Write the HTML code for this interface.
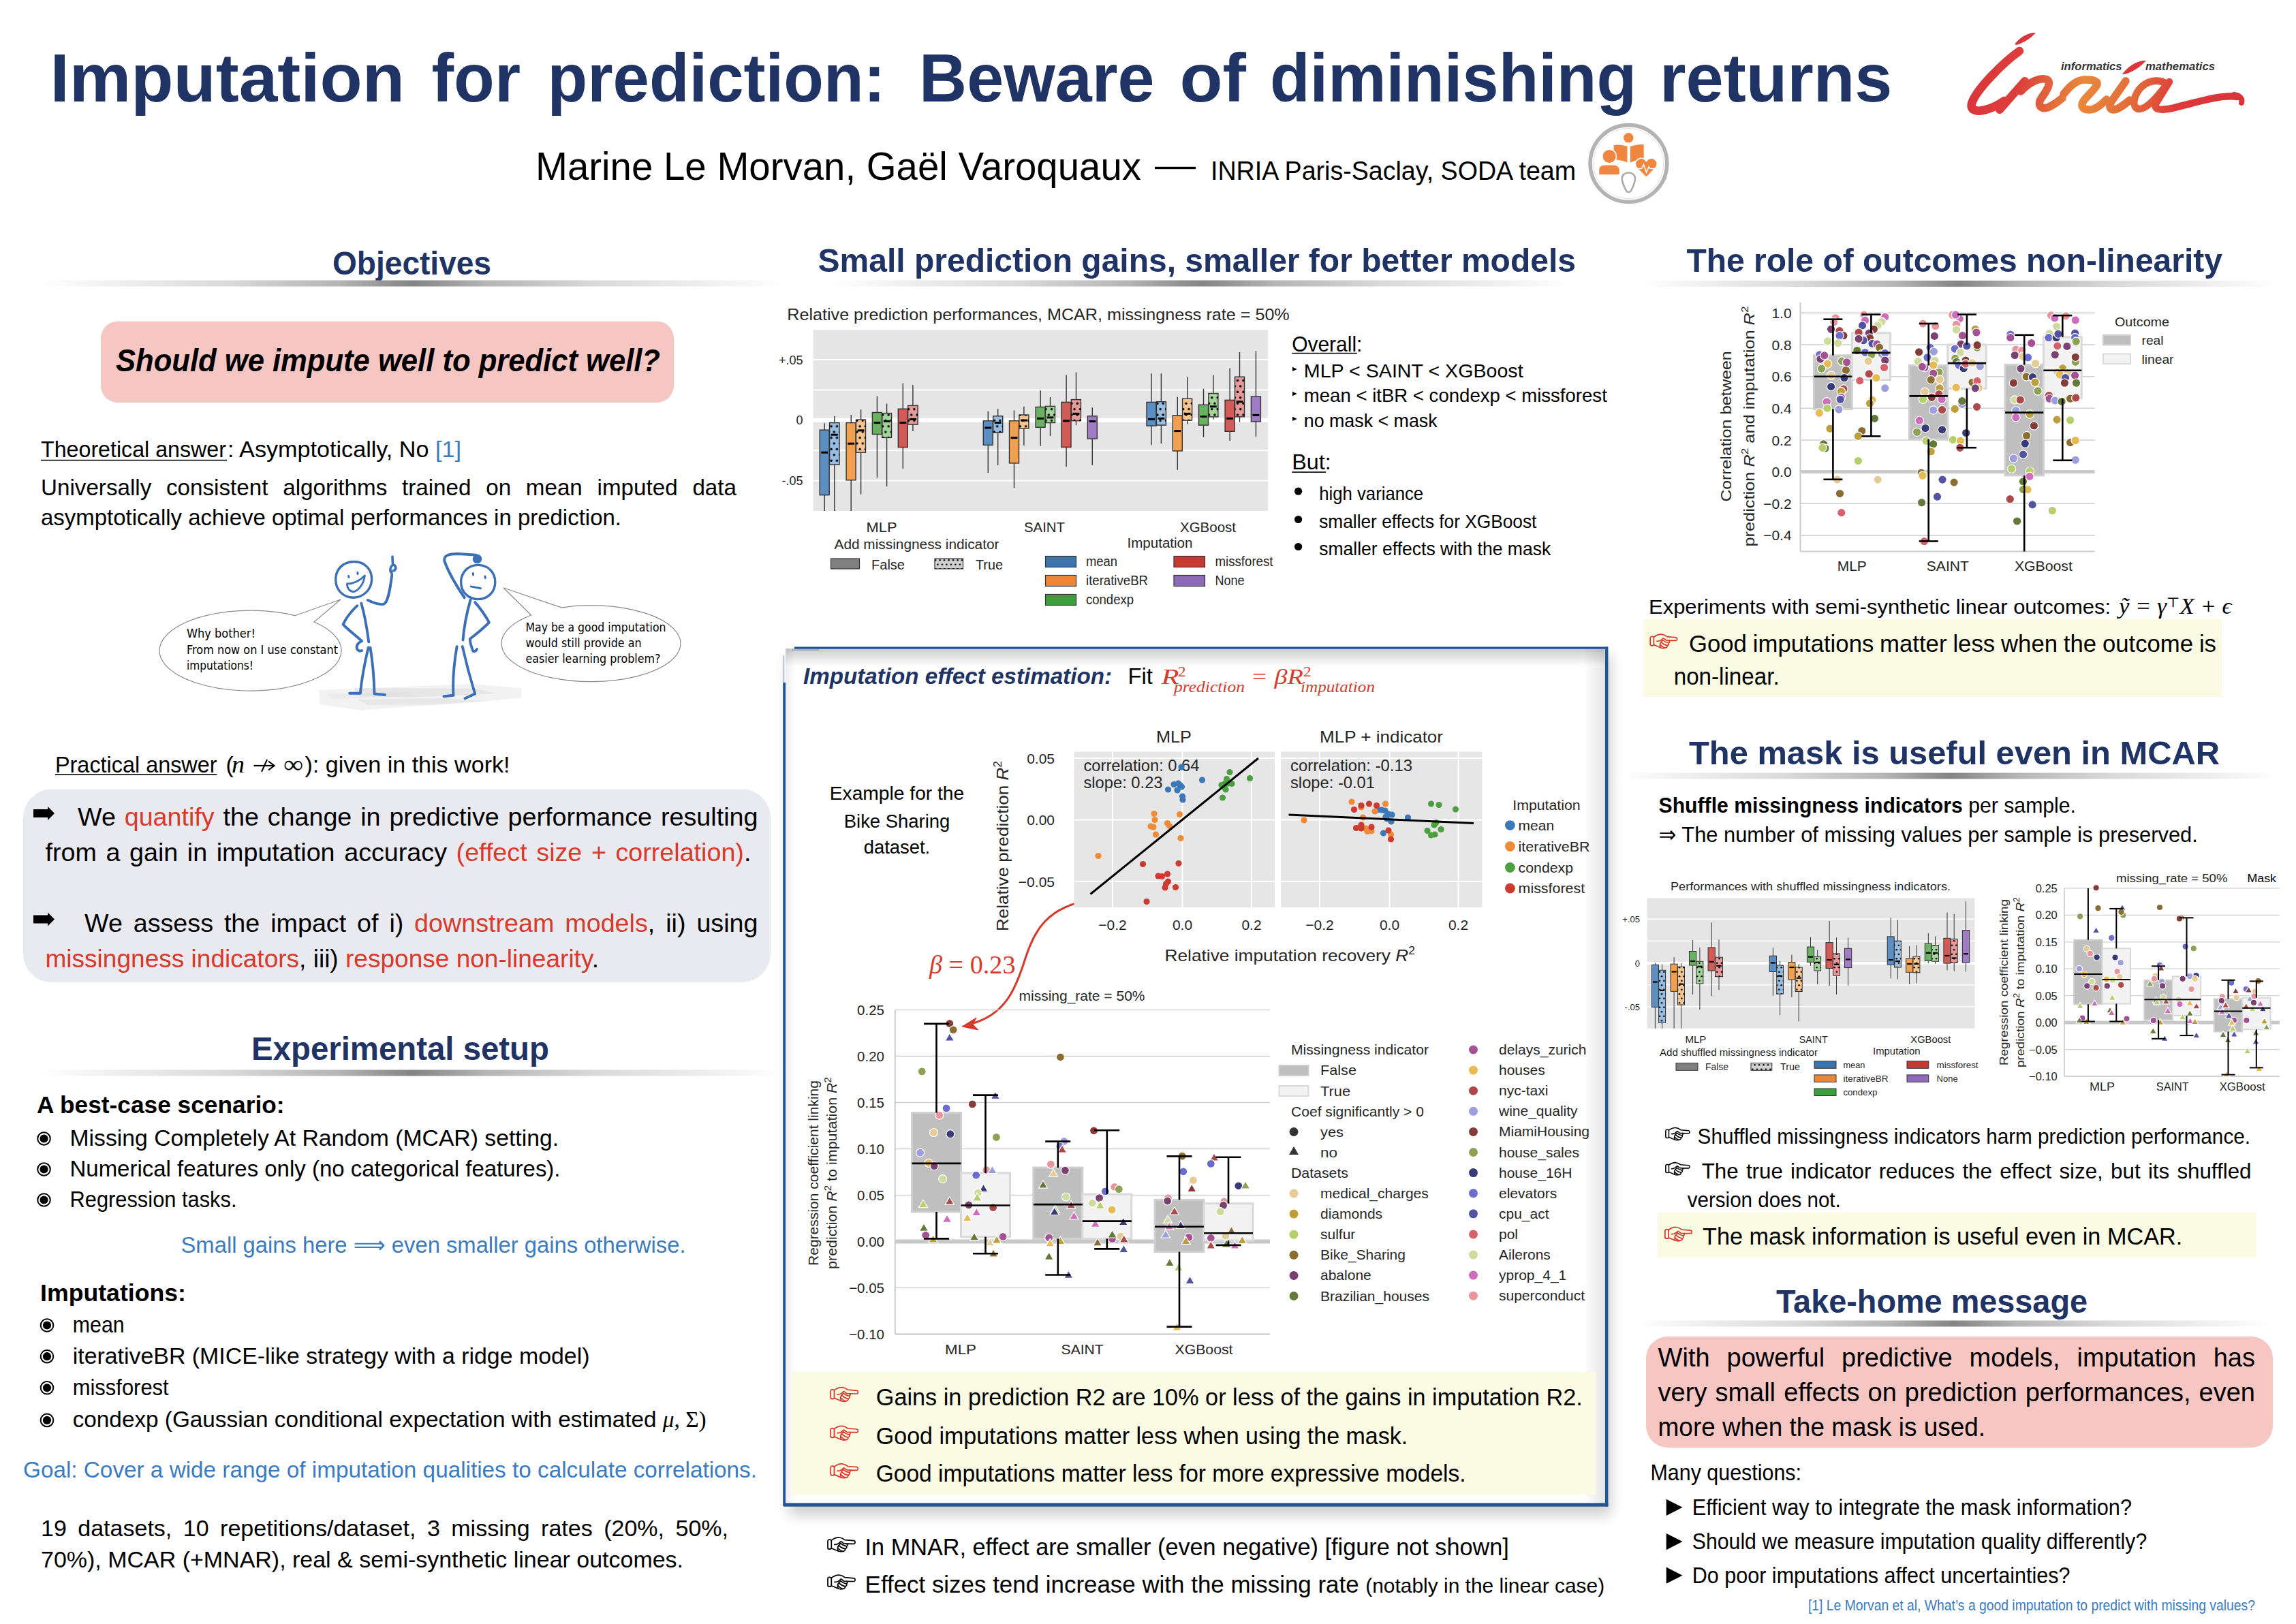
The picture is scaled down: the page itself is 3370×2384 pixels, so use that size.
<!DOCTYPE html>
<html><head><meta charset="utf-8"><title>Imputation for prediction: Beware of diminishing returns</title>
<style>
html,body{margin:0;padding:0;background:#fff;}
body{width:3370px;height:2384px;overflow:hidden;}
svg{display:block;font-family:"Liberation Sans","DejaVu Sans",sans-serif;}
</style></head><body>
<svg width="3370" height="2384" viewBox="0 0 3370 2384">
<defs>
<linearGradient id="rulegrad" x1="0" x2="1" y1="0" y2="0">
<stop offset="0" stop-color="#ffffff"/>
<stop offset="0.08" stop-color="#f2f2f2"/>
<stop offset="0.25" stop-color="#dadada"/>
<stop offset="0.4" stop-color="#b5b5b5"/>
<stop offset="0.5" stop-color="#848484"/>
<stop offset="0.6" stop-color="#b5b5b5"/>
<stop offset="0.75" stop-color="#dadada"/>
<stop offset="0.92" stop-color="#f2f2f2"/>
<stop offset="1" stop-color="#ffffff"/>
</linearGradient>
<pattern id="dots" patternUnits="userSpaceOnUse" width="8.4" height="16.8">
<circle cx="2.1" cy="4.2" r="1.7" fill="#000"/>
<circle cx="6.3" cy="12.6" r="1.7" fill="#000"/>
</pattern>
<pattern id="dots2" patternUnits="userSpaceOnUse" width="6.5" height="13">
<circle cx="1.6" cy="3.2" r="1.3" fill="#000"/>
<circle cx="4.9" cy="9.7" r="1.3" fill="#000"/>
</pattern>
<linearGradient id="inriagrad" x1="0" x2="1" y1="0" y2="0.3">
<stop offset="0" stop-color="#dc3a3a"/>
<stop offset="0.45" stop-color="#e8843b"/>
<stop offset="0.75" stop-color="#dc3a3a"/>
<stop offset="1" stop-color="#dc3a3a"/>
</linearGradient>
<filter id="blur6" x="-10%" y="-10%" width="120%" height="120%"><feGaussianBlur stdDeviation="6"/></filter>
<filter id="blur3" x="-10%" y="-10%" width="120%" height="120%"><feGaussianBlur stdDeviation="3"/></filter>
<symbol id="hand" viewBox="0 0 41.5 21.3" overflow="visible">
<g fill="none" stroke-width="1.75" stroke-linecap="round" stroke-linejoin="round">
<rect x="0.9" y="3.7" width="5.3" height="13.8" rx="2.3"/>
<path d="M6.2,4.6 C9,2.6 14,0.3 17.7,0.5 C20.5,0.8 23.5,2 25.9,4.1 L39.4,5.2 C41.6,5.6 41.6,9.6 39.4,9.9 L28.6,9.7 C30.2,10.5 30.1,12.7 28.2,13.3 C29.3,14.6 28.6,16.6 26.5,17.2 C27,19.2 25,21 22.6,20.8 C20.5,21.6 18,21.2 15.5,20.2 L7.4,16.7 L6.2,16.6"/>
<path d="M10.7,10.8 C14,11.2 17.5,9.2 20.1,6.4 C21.5,6 22.7,8.8 25,9.6 L28.6,9.7"/>
<path d="M19.8,9.2 C22,11.5 25,12.8 28.2,13.3 M17.6,12.6 C20,15 23,16.6 26.5,17.2 M16,16.2 C18,18.5 20.5,20.2 22.6,20.8 M19.8,9.2 C17,11.5 15.5,14 15.4,16 C15.4,18 15.7,19.5 16.3,20.4"/>
</g>
</symbol>
</defs>

<text x="73.5" y="148.5" font-size="100" font-weight="bold" fill="#1f3365" textLength="520.5" lengthAdjust="spacingAndGlyphs">Imputation</text>
<text x="633.5" y="148.5" font-size="100" font-weight="bold" fill="#1f3365" textLength="130.5" lengthAdjust="spacingAndGlyphs">for</text>
<text x="803.5" y="148.5" font-size="100" font-weight="bold" fill="#1f3365" textLength="496.0" lengthAdjust="spacingAndGlyphs">prediction:</text>
<text x="1349.0" y="148.5" font-size="100" font-weight="bold" fill="#1f3365" textLength="345.5" lengthAdjust="spacingAndGlyphs">Beware</text>
<text x="1731.5" y="148.5" font-size="100" font-weight="bold" fill="#1f3365" textLength="97.5" lengthAdjust="spacingAndGlyphs">of</text>
<text x="1864.0" y="148.5" font-size="100" font-weight="bold" fill="#1f3365" textLength="538.0" lengthAdjust="spacingAndGlyphs">diminishing</text>
<text x="2436.0" y="148.5" font-size="100" font-weight="bold" fill="#1f3365" textLength="341.5" lengthAdjust="spacingAndGlyphs">returns</text>
<text x="786.0" y="264.0" font-size="58" textLength="889.0" lengthAdjust="spacingAndGlyphs">Marine Le Morvan, Gaël Varoquaux</text>
<rect x="1695.0" y="244.8" width="60.0" height="3.4" fill="#000"/>
<text x="1777.0" y="264.0" font-size="38" textLength="536.0" lengthAdjust="spacingAndGlyphs">INRIA Paris-Saclay, SODA team</text>
<linearGradient id="ig2" gradientUnits="userSpaceOnUse" x1="2890" y1="60" x2="3300" y2="170"><stop offset="0" stop-color="#da343b"/><stop offset="0.2" stop-color="#dc3d3a"/><stop offset="0.42" stop-color="#e8893c"/><stop offset="0.6" stop-color="#e36a3a"/><stop offset="0.75" stop-color="#dc393a"/><stop offset="1" stop-color="#d9333a"/></linearGradient>
<g fill="none" stroke="url(#ig2)" stroke-linecap="round" stroke-linejoin="round">
<path d="M2964,75 C2940,92 2900,132 2894,152 C2891,163 2903,165 2918,160 C2928,157 2936,152 2942,148" stroke-width="12.5"/>
<path d="M2935,161 L2972,119" stroke-width="12"/>
<path d="M2966,134 C2980,119 2996,113 3005,117 C3011,121 3005,132 2997,143 C2990,153 2994,161 3005,158 C3013,155 3021,149 3027,144" stroke-width="11.5"/>
<path d="M3029,138 C3039,125 3049,117 3060,117 C3070,117 3079,118 3078,124 C3076,131 3061,142 3057,150 C3053,159 3061,163 3073,160 C3081,157 3087,151 3092,146" stroke-width="11.5"/>
<path d="M3120,119 L3099,149 C3094,158 3098,163 3107,160 C3114,157 3120,152 3126,147" stroke-width="11.5"/>
<path d="M3181,124 C3168,114 3150,119 3140,131 C3131,143 3129,158 3139,160 C3149,161 3164,146 3180,124" stroke-width="10.5"/>
<path d="M3184,120 L3165,151 C3160,160 3168,163 3188,159 C3225,150 3262,138 3284,142" stroke-width="10.5"/>
<path d="M3279,139 C3288,140 3292,145 3290,151" stroke-width="8"/>
</g>
<path d="M2957,65 C2963,57 2972,50 2984,48 L2988,48 C2981,56 2970,63 2960,66 Z" fill="#db353b"/>
<path d="M3115,109 C3122,99 3133,91 3146,89 L3150,89 C3142,98 3130,106 3118,109 Z" fill="#db353b"/>
<text x="3025.0" y="103.2" font-size="17" font-weight="bold" font-style="italic" fill="#333" textLength="89.5" lengthAdjust="spacingAndGlyphs">informatics</text>
<text x="3149.0" y="103.2" font-size="17" font-weight="bold" font-style="italic" fill="#333" textLength="102.0" lengthAdjust="spacingAndGlyphs">mathematics</text>
<circle cx="2390.4" cy="240.0" r="56.4" fill="#fff" stroke="#b3b3b3" stroke-width="5.6" />
<circle cx="2390.4" cy="240.0" r="51.5" fill="none" stroke="#e2e2e2" stroke-width="1" />
<circle cx="2390.3" cy="202.3" r="7.8" fill="#ef8741" stroke="#fff" stroke-width="1.2" />
<path d="M2368.7,213 Q2378,211.5 2388.5,215 L2388.5,238.5 Q2379,234.5 2368.7,234 Z" fill="#ef8741"/>
<path d="M2392.8,215 Q2403,211.5 2412.7,212.2 L2412.7,234 Q2402,234.5 2392.8,238.5 Z" fill="#ef8741"/>
<circle cx="2362.1" cy="229.5" r="10.3" fill="#ef8741" stroke="#fff" stroke-width="1.5" />
<path d="M2347.2,256.2 L2347.2,249 Q2347.2,242.4 2356,242.4 L2368,242.4 Q2376.9,242.4 2376.9,251 L2376.9,254 Q2376.9,256.2 2374,256.2 Z" fill="#ef8741"/>
<path d="M2416.3,260.5 L2402.5,246.5 Q2398.5,241 2401.5,236.5 Q2405.5,231.5 2411,232.5 Q2414.5,233.5 2416.3,236.5 Q2418.5,233.3 2422,232.5 Q2428,231.5 2431.5,237 Q2433.5,242 2430,246.5 Z" fill="#ef8741" stroke="#fff" stroke-width="1.5"/>
<path d="M2401,247.5 L2409.5,247.5 L2412.5,241.5 L2416.5,253 L2420,245 L2422.5,247.5 L2432,247.5" fill="none" stroke="#fff" stroke-width="1.6"/>
<path d="M2390.4,253.5 C2396,253.5 2400.5,257 2400,263 C2399.5,268 2395.5,277 2393.5,280.5 C2392.5,282.5 2388.3,282.5 2387.3,280.5 C2385.3,277 2381.3,268 2380.8,263 C2380.3,257 2384.8,253.5 2390.4,253.5 Z" fill="#fff" stroke="#ababab" stroke-width="2.6"/>
<text x="488.0" y="402.6" font-size="48" font-weight="bold" fill="#1f3365" textLength="233.0" lengthAdjust="spacingAndGlyphs">Objectives</text>
<rect x="60.0" y="411.5" width="1090.0" height="9.0" fill="url(#rulegrad)"/>
<rect x="148.0" y="471.7" width="841.0" height="119.3" fill="#f6c6c3" rx="25"/>
<text x="170.0" y="545.4" font-size="45.5" font-weight="bold" font-style="italic" textLength="799.0" lengthAdjust="spacingAndGlyphs">Should we impute well to predict well?</text>
<text x="60.0" y="671.2" font-size="33.2" textLength="272.0" lengthAdjust="spacingAndGlyphs">Theoretical answer</text>
<text x="334.0" y="671.2" font-size="33.2" textLength="343.0" lengthAdjust="spacingAndGlyphs">: Asymptotically, No <tspan fill="#3b7bc0">[1]</tspan></text>
<rect x="60.0" y="674.8" width="273.0" height="1.6" fill="#000"/>
<text x="60.0" y="726.8" font-size="33.2">Universally</text>
<text x="244.0" y="726.8" font-size="33.2">consistent</text>
<text x="415.2" y="726.8" font-size="33.2">algorithms</text>
<text x="590.0" y="726.8" font-size="33.2">trained</text>
<text x="713.2" y="726.8" font-size="33.2">on</text>
<text x="771.8" y="726.8" font-size="33.2">mean</text>
<text x="876.6" y="726.8" font-size="33.2">imputed</text>
<text x="1016.4" y="726.8" font-size="33.2">data</text>
<text x="60.0" y="771.2" font-size="33.2" textLength="852.0" lengthAdjust="spacingAndGlyphs">asymptotically achieve optimal performances in prediction.</text>
<g fill="#d9d9d9">
<path d="M468,1013 L690,1004 L765,1010 L766,1024 L700,1031 L560,1040 L530,1043 L470,1034 Z" opacity="0.35"/>
<path d="M520,1010 L700,1011 L725,1018 L600,1024 L525,1021 Z" opacity="0.5"/>
<path d="M525,1027 L650,1025 L712,1029 L640,1034 L540,1035 Z" opacity="0.45"/>
<path d="M480,1019 L600,1016 L610,1022 L490,1026 Z" opacity="0.3"/>
</g>
<g fill="#fff" stroke="#8a8a8a" stroke-width="1.2">
<path d="M433,903.7 L500,880 L461,913 A133.5,59 0 1,1 433,903.7 Z"/>
<path d="M779.6,903 L739,863 L824,891.8 A131.5,56 0 1,1 779.6,903 Z"/>
</g>
<text x="274.0" y="936.0" font-size="18.5" font-family='"Comic Sans MS", "DejaVu Sans", sans-serif' textLength="101.0" lengthAdjust="spacingAndGlyphs">Why bother!</text>
<text x="274.0" y="960.4" font-size="18.5" font-family='"Comic Sans MS", "DejaVu Sans", sans-serif' textLength="222.0" lengthAdjust="spacingAndGlyphs">From now on I use constant</text>
<text x="274.0" y="983.0" font-size="18.5" font-family='"Comic Sans MS", "DejaVu Sans", sans-serif' textLength="98.0" lengthAdjust="spacingAndGlyphs">imputations!</text>
<text x="771.5" y="927.0" font-size="18.5" font-family='"Comic Sans MS", "DejaVu Sans", sans-serif' textLength="206.0" lengthAdjust="spacingAndGlyphs">May be a good imputation</text>
<text x="771.5" y="950.0" font-size="18.5" font-family='"Comic Sans MS", "DejaVu Sans", sans-serif' textLength="170.0" lengthAdjust="spacingAndGlyphs">would still provide an</text>
<text x="771.5" y="973.3" font-size="18.5" font-family='"Comic Sans MS", "DejaVu Sans", sans-serif' textLength="198.0" lengthAdjust="spacingAndGlyphs">easier learning problem?</text>
<g fill="none" stroke="#3a70b8" stroke-width="3.9" stroke-linecap="round" stroke-linejoin="round">
<path d="M519.2,824.5 C535,824 546,836 545.6,851 C545,866 533,877 519,877.2 C504,877.5 492.8,866 492.7,851 C492.6,836 503,824.8 519.2,824.5" stroke-width="3.4"/>
<path d="M511.5,845.5 l0.5,2 M524.8,840.5 l0.3,2" stroke-width="3"/>
<path d="M509.6,856.7 C516,858 528,853 535.4,844.9 C534,857 527,866 519.9,868.5 C513,869 509,863 509.6,856.7 Z" stroke-width="2.8"/>
<path d="M539.8,881.1 C548,885 556,888 562.8,887 C569,885 572,870 575.3,844" />
<path d="M575.3,842 C571,838 573,832 576.5,829 L576,817 M577,829 C582,830 582,837 577,838" stroke-width="3.6"/>
<path d="M530.2,885.5 C536,905 539,925 541.3,942.4"/>
<path d="M524.3,889.2 C515,898 508,907 503.6,916.6 C512,926 523,933 531,941 C527,943 522,947 524.3,953 C526,956 529,956 531,955"/>
<path d="M540.6,950.6 C536,970 531,995 528.8,1017.8 L513.2,1017.8"/>
<path d="M543.5,950.6 C547,972 549,995 549.5,1018.5 L565,1020"/>
<path d="M701.7,829.4 C716,829.4 726.8,840 726.8,854.5 C726.8,869 716,879.6 701.7,879.6 C687.5,879.6 676.6,869 676.6,854.5 C676.6,840 687.5,829.4 701.7,829.4" stroke-width="3.4"/>
<path d="M694.3,841.5 l0.2,2.5 M712,846 l0.2,2.5 M691.3,860.9 L705.4,863.8" stroke-width="3"/>
<path d="M681.7,877.4 C670,860 658,840 652.2,823 C651,815 660,813 672,813 L698.7,814.6"/>
<circle cx="700.5" cy="820.5" r="6.8" fill="#3a70b8" stroke="none" stroke-width="1" />
<path d="M690.6,880.4 C685,900 681,920 679.5,939.5"/>
<path d="M697.2,884.1 C705,893 712,903 717.9,913.6 C710,922 700,930 689.8,938 C690,943 692,950 694.3,955.7 C697,957 699,955 700,953"/>
<path d="M670.6,949.1 C667,970 664,995 665.5,1020.8 L651.4,1022.2"/>
<path d="M678.8,949.1 C684,972 690,995 697.2,1018.5 L682.5,1025.2"/>
</g>
<text x="81.0" y="1133.5" font-size="33.2" textLength="237.5" lengthAdjust="spacingAndGlyphs">Practical answer</text>
<text x="331.5" y="1133.5" font-size="33.2">(</text>
<text x="340.0" y="1133.5" font-size="36" font-family='"Liberation Serif", "DejaVu Serif", serif' font-style="italic" textLength="19.0" lengthAdjust="spacingAndGlyphs">n</text>
<line x1="372.5" y1="1124.0" x2="401.0" y2="1124.0" stroke="#000" stroke-width="2.2" />
<path d="M394,1117.5 L402.5,1124 L394,1130.5" fill="none" stroke="#000" stroke-width="2.2" />
<line x1="392.0" y1="1115.0" x2="384.0" y2="1133.0" stroke="#000" stroke-width="2" />
<text x="416.0" y="1133.5" font-size="36" font-family='"Liberation Serif", "DejaVu Serif", serif' textLength="29.0" lengthAdjust="spacingAndGlyphs">∞</text>
<text x="447.5" y="1133.5" font-size="33.2" textLength="301.0" lengthAdjust="spacingAndGlyphs">): given in this work!</text>
<rect x="81.0" y="1136.3" width="237.5" height="1.6" fill="#000"/>
<rect x="34.0" y="1158.5" width="1097.0" height="283.5" fill="#e9e9f0" rx="42"/>
<path d="M49.0,1188.1 L70.1,1188.1 L70.1,1184.1 L80.0,1194.0 L70.1,1204.0 L70.1,1200.0 L49.0,1200.0 Z" fill="#000" />
<path d="M49.0,1343.6 L70.1,1343.6 L70.1,1339.6 L80.0,1349.5 L70.1,1359.5 L70.1,1355.5 L49.0,1355.5 Z" fill="#000" />
<text x="114.0" y="1212.0" font-size="37.7">We</text>
<text x="182.7" y="1212.0" font-size="37.7"><tspan fill="#d8392b">quantify</tspan></text>
<text x="327.5" y="1212.0" font-size="37.7">the</text>
<text x="392.7" y="1212.0" font-size="37.7">change</text>
<text x="529.2" y="1212.0" font-size="37.7">in</text>
<text x="571.4" y="1212.0" font-size="37.7">predictive</text>
<text x="745.5" y="1212.0" font-size="37.7">performance</text>
<text x="970.0" y="1212.0" font-size="37.7">resulting</text>
<text x="66.5" y="1263.8" font-size="37.7">from</text>
<text x="155.5" y="1263.8" font-size="37.7">a</text>
<text x="190.0" y="1263.8" font-size="37.7">gain</text>
<text x="274.8" y="1263.8" font-size="37.7">in</text>
<text x="317.7" y="1263.8" font-size="37.7">imputation</text>
<text x="505.2" y="1263.8" font-size="37.7">accuracy</text>
<text x="669.6" y="1263.8" font-size="37.7"><tspan fill="#d8392b">(effect</tspan></text>
<text x="787.3" y="1263.8" font-size="37.7"><tspan fill="#d8392b">size</tspan></text>
<text x="867.9" y="1263.8" font-size="37.7"><tspan fill="#d8392b">+</tspan></text>
<text x="903.4" y="1263.8" font-size="37.7"><tspan fill="#d8392b">correlation)</tspan>.</text>
<text x="124.0" y="1367.5" font-size="37.7">We</text>
<text x="195.7" y="1367.5" font-size="37.7">assess</text>
<text x="328.9" y="1367.5" font-size="37.7">the</text>
<text x="397.2" y="1367.5" font-size="37.7">impact</text>
<text x="524.1" y="1367.5" font-size="37.7">of</text>
<text x="571.4" y="1367.5" font-size="37.7">i)</text>
<text x="608.1" y="1367.5" font-size="37.7"><tspan fill="#d8392b">downstream</tspan></text>
<text x="829.3" y="1367.5" font-size="37.7"><tspan fill="#d8392b">models</tspan>,</text>
<text x="977.2" y="1367.5" font-size="37.7">ii)</text>
<text x="1022.4" y="1367.5" font-size="37.7">using</text>
<text x="66.5" y="1420.0" font-size="37.7" textLength="812.5" lengthAdjust="spacingAndGlyphs"><tspan fill="#d8392b">missingness indicators</tspan>, iii) <tspan fill="#d8392b">response non-linearity</tspan>.</text>
<text x="369.0" y="1556.0" font-size="48" font-weight="bold" fill="#1f3365" textLength="437.0" lengthAdjust="spacingAndGlyphs">Experimental setup</text>
<rect x="60.0" y="1570.5" width="1090.0" height="9.0" fill="url(#rulegrad)"/>
<text x="54.0" y="1634.0" font-size="34.5" font-weight="bold" textLength="363.5" lengthAdjust="spacingAndGlyphs">A best-case scenario:</text>
<circle cx="64.5" cy="1671.5" r="9.3" fill="none" stroke="#000" stroke-width="2.0" />
<circle cx="64.5" cy="1671.5" r="6.1" fill="#000" />
<text x="102.5" y="1682.0" font-size="34" textLength="717.5" lengthAdjust="spacingAndGlyphs">Missing Completely At Random (MCAR) setting.</text>
<circle cx="64.5" cy="1716.5" r="9.3" fill="none" stroke="#000" stroke-width="2.0" />
<circle cx="64.5" cy="1716.5" r="6.1" fill="#000" />
<text x="102.5" y="1727.0" font-size="34" textLength="720.0" lengthAdjust="spacingAndGlyphs">Numerical features only (no categorical features).</text>
<circle cx="64.5" cy="1761.5" r="9.3" fill="none" stroke="#000" stroke-width="2.0" />
<circle cx="64.5" cy="1761.5" r="6.1" fill="#000" />
<text x="102.5" y="1772.0" font-size="34" textLength="245.0" lengthAdjust="spacingAndGlyphs">Regression tasks.</text>
<text x="265.5" y="1839.0" font-size="34" fill="#3b7bc0" textLength="741.0" lengthAdjust="spacingAndGlyphs">Small gains here <tspan font-family='"DejaVu Sans", sans-serif'>⟹</tspan> even smaller gains otherwise.</text>
<text x="59.0" y="1910.0" font-size="34.5" font-weight="bold" textLength="214.0" lengthAdjust="spacingAndGlyphs">Imputations:</text>
<circle cx="69.0" cy="1945.5" r="9.3" fill="none" stroke="#000" stroke-width="2.0" />
<circle cx="69.0" cy="1945.5" r="6.1" fill="#000" />
<text x="106.7" y="1956.0" font-size="34" textLength="76.0" lengthAdjust="spacingAndGlyphs">mean</text>
<circle cx="69.0" cy="1991.2" r="9.3" fill="none" stroke="#000" stroke-width="2.0" />
<circle cx="69.0" cy="1991.2" r="6.1" fill="#000" />
<text x="106.7" y="2001.7" font-size="34" textLength="758.8" lengthAdjust="spacingAndGlyphs">iterativeBR (MICE-like strategy with a ridge model)</text>
<circle cx="69.0" cy="2037.3" r="9.3" fill="none" stroke="#000" stroke-width="2.0" />
<circle cx="69.0" cy="2037.3" r="6.1" fill="#000" />
<text x="106.7" y="2047.8" font-size="34" textLength="141.0" lengthAdjust="spacingAndGlyphs">missforest</text>
<circle cx="69.0" cy="2084.9" r="9.3" fill="none" stroke="#000" stroke-width="2.0" />
<circle cx="69.0" cy="2084.9" r="6.1" fill="#000" />
<text x="106.7" y="2095.4" font-size="34" textLength="930.0" lengthAdjust="spacingAndGlyphs">condexp (Gaussian conditional expectation with estimated <tspan font-style="italic" font-family='"Liberation Serif", "DejaVu Serif", serif'>μ</tspan><tspan font-family='"Liberation Serif", "DejaVu Serif", serif'>, Σ)</tspan></text>
<text x="34.0" y="2169.0" font-size="34" fill="#3b7bc0" textLength="1077.0" lengthAdjust="spacingAndGlyphs">Goal: Cover a wide range of imputation qualities to calculate correlations.</text>
<text x="60.0" y="2254.6" font-size="34">19</text>
<text x="114.3" y="2254.6" font-size="34">datasets,</text>
<text x="268.8" y="2254.6" font-size="34">10</text>
<text x="323.1" y="2254.6" font-size="34">repetitions/dataset,</text>
<text x="626.9" y="2254.6" font-size="34">3</text>
<text x="662.3" y="2254.6" font-size="34">missing</text>
<text x="794.1" y="2254.6" font-size="34">rates</text>
<text x="886.2" y="2254.6" font-size="34">(20%,</text>
<text x="991.5" y="2254.6" font-size="34">50%,</text>
<text x="60.0" y="2300.7" font-size="34" textLength="943.0" lengthAdjust="spacingAndGlyphs">70%), MCAR (+MNAR), real &amp; semi-synthetic linear outcomes.</text>
<text x="1200.5" y="398.5" font-size="49" font-weight="bold" fill="#1f3365" textLength="1112.5" lengthAdjust="spacingAndGlyphs">Small prediction gains, smaller for better models</text>
<rect x="1221.0" y="411.5" width="1085.0" height="9.0" fill="url(#rulegrad)"/>
<text x="1896.2" y="516.2" font-size="31.4" textLength="103.2" lengthAdjust="spacingAndGlyphs">Overall:</text>
<rect x="1896.2" y="517.8" width="95.8" height="1.6" fill="#000"/>
<path d="M1897.0,538.8 L1903.8,541.9 L1897.0,545.0 Z" fill="#000" />
<text x="1913.8" y="553.8" font-size="28" textLength="321.8" lengthAdjust="spacingAndGlyphs">MLP &lt; SAINT &lt; XGBoost</text>
<path d="M1897.0,575.0 L1903.8,578.1 L1897.0,581.2 Z" fill="#000" />
<text x="1913.8" y="590.0" font-size="28" textLength="445.0" lengthAdjust="spacingAndGlyphs">mean &lt; itBR &lt; condexp &lt; missforest</text>
<path d="M1897.0,611.8 L1903.8,614.9 L1897.0,618.0 Z" fill="#000" />
<text x="1913.8" y="626.8" font-size="28" textLength="195.8" lengthAdjust="spacingAndGlyphs">no mask &lt; mask</text>
<text x="1896.2" y="688.8" font-size="31.4" textLength="57.5" lengthAdjust="spacingAndGlyphs">But:</text>
<rect x="1896.2" y="692.3" width="50.0" height="1.6" fill="#000"/>
<circle cx="1905.6" cy="721.2" r="5.6" fill="#000" />
<text x="1936.2" y="733.8" font-size="28" textLength="153.0" lengthAdjust="spacingAndGlyphs">high variance</text>
<circle cx="1905.6" cy="762.5" r="5.6" fill="#000" />
<text x="1936.2" y="775.0" font-size="28" textLength="319.2" lengthAdjust="spacingAndGlyphs">smaller effects for XGBoost</text>
<circle cx="1905.6" cy="802.5" r="5.6" fill="#000" />
<text x="1936.2" y="815.0" font-size="28" textLength="340.0" lengthAdjust="spacingAndGlyphs">smaller effects with the mask</text>
<filter id="blur10" x="-10%" y="-10%" width="120%" height="120%"><feGaussianBlur stdDeviation="10"/></filter>
<rect x="1158" y="962" width="1206" height="1262" fill="#000" opacity="0.2" filter="url(#blur10)"/>
<rect x="1151.5" y="950.5" width="1205.5" height="1258.0" fill="#fff"/>
<linearGradient id="ishT" x1="0" y1="0" x2="0" y2="1"><stop offset="0" stop-color="#000" stop-opacity="0.2"/><stop offset="1" stop-color="#000" stop-opacity="0"/></linearGradient>
<linearGradient id="ishR" x1="1" y1="0" x2="0" y2="0"><stop offset="0" stop-color="#000" stop-opacity="0.10"/><stop offset="1" stop-color="#000" stop-opacity="0"/></linearGradient>
<linearGradient id="ishL" x1="0" y1="0" x2="1" y2="0"><stop offset="0" stop-color="#000" stop-opacity="0.07"/><stop offset="1" stop-color="#000" stop-opacity="0"/></linearGradient>
<rect x="1153.0" y="952.0" width="1202.0" height="26.0" fill="url(#ishT)"/>
<rect x="2325.0" y="952.0" width="30.0" height="1255.0" fill="url(#ishR)"/>
<rect x="1153.0" y="952.0" width="14.0" height="1255.0" fill="url(#ishL)"/>
<rect x="1166.0" y="949.5" width="1194.0" height="3.2" fill="#235595"/>
<rect x="1162.0" y="953.5" width="40.0" height="1.2" fill="#235595" opacity="0.5"/>
<rect x="1149.6" y="962.0" width="1.6" height="40.0" fill="#235595" opacity="0.4"/>
<rect x="1149.2" y="1002.0" width="3.8" height="1209.0" fill="#235595"/>
<rect x="2355.8" y="949.5" width="4.6" height="1262.0" fill="#235595"/>
<rect x="1150.0" y="2206.4" width="1210.4" height="5.2" fill="#235595"/>
<text x="1179.0" y="1003.5" font-size="33" font-weight="bold" font-style="italic" fill="#1f3365" textLength="453.0" lengthAdjust="spacingAndGlyphs">Imputation effect estimation:</text>
<text x="1655.5" y="1003.5" font-size="33" textLength="36.5" lengthAdjust="spacingAndGlyphs">Fit</text>
<text x="1704.5" y="1003.5" font-size="32" font-family='"Liberation Serif", "DejaVu Serif", serif' font-style="italic" fill="#d8392b" textLength="26.0" lengthAdjust="spacingAndGlyphs">R</text>
<text x="1729.0" y="992.5" font-size="21" font-family='"Liberation Serif", "DejaVu Serif", serif' fill="#d8392b" textLength="11.5" lengthAdjust="spacingAndGlyphs">2</text>
<text x="1723.0" y="1016.0" font-size="24" font-family='"Liberation Serif", "DejaVu Serif", serif' font-style="italic" fill="#d8392b" textLength="104.0" lengthAdjust="spacingAndGlyphs">prediction</text>
<text x="1838.0" y="1003.5" font-size="32" font-family='"Liberation Serif", "DejaVu Serif", serif' fill="#d8392b" textLength="21.0" lengthAdjust="spacingAndGlyphs">=</text>
<text x="1870.5" y="1003.5" font-size="32" font-family='"Liberation Serif", "DejaVu Serif", serif' font-style="italic" fill="#d8392b" textLength="42.5" lengthAdjust="spacingAndGlyphs">βR</text>
<text x="1913.0" y="992.5" font-size="21" font-family='"Liberation Serif", "DejaVu Serif", serif' fill="#d8392b" textLength="11.5" lengthAdjust="spacingAndGlyphs">2</text>
<text x="1909.0" y="1016.0" font-size="24" font-family='"Liberation Serif", "DejaVu Serif", serif' font-style="italic" fill="#d8392b" textLength="109.0" lengthAdjust="spacingAndGlyphs">imputation</text>
<text x="1316.5" y="1174.0" font-size="28" text-anchor="middle" textLength="197.5" lengthAdjust="spacingAndGlyphs">Example for the</text>
<text x="1316.5" y="1215.0" font-size="28" text-anchor="middle" textLength="155.5" lengthAdjust="spacingAndGlyphs">Bike Sharing</text>
<text x="1316.5" y="1252.5" font-size="28" text-anchor="middle" textLength="97.5" lengthAdjust="spacingAndGlyphs">dataset.</text>
<text x="1364.0" y="1429.0" font-size="38" font-family='"Liberation Serif", "DejaVu Serif", serif' fill="#d8392b" textLength="126.5" lengthAdjust="spacingAndGlyphs"><tspan font-style="italic">β</tspan> = 0.23</text>
<path d="M1592,1323 C1530,1335 1515,1375 1502,1416 C1490,1452 1475,1490 1425,1503" fill="none" stroke="#d8392b" stroke-width="3" />
<path d="M1412,1507 L1433,1494 L1428,1504 L1436,1512 Z" fill="#d8392b" stroke="#d8392b" stroke-width="1" />
<rect x="1162.0" y="2014.0" width="1180.0" height="180.0" fill="#fbfbe3"/>
<use href="#hand" x="1218.3" y="2036.1" width="41.5" height="21.3" stroke="#d8392b"/>
<text x="1285.8" y="2062.9" font-size="35.5" textLength="1037.0" lengthAdjust="spacingAndGlyphs">Gains in prediction R2 are 10% or less of the gains in imputation R2.</text>
<use href="#hand" x="1218.3" y="2092.8" width="41.5" height="21.3" stroke="#d8392b"/>
<text x="1285.8" y="2119.6" font-size="35.5" textLength="780.4" lengthAdjust="spacingAndGlyphs">Good imputations matter less when using the mask.</text>
<use href="#hand" x="1218.3" y="2148.4" width="41.5" height="21.3" stroke="#d8392b"/>
<text x="1285.8" y="2175.2" font-size="35.5" textLength="865.8" lengthAdjust="spacingAndGlyphs">Good imputations matter less for more expressive models.</text>
<use href="#hand" x="1214.1" y="2256.5" width="41.5" height="21.3" stroke="#000"/>
<text x="1269.6" y="2283.3" font-size="35" textLength="945.2" lengthAdjust="spacingAndGlyphs">In MNAR, effect are smaller (even negative) [figure not shown]</text>
<use href="#hand" x="1214.1" y="2311.6" width="41.5" height="21.3" stroke="#000"/>
<text x="1269.6" y="2338.4" font-size="35" textLength="1085.6" lengthAdjust="spacingAndGlyphs">Effect sizes tend increase with the missing rate <tspan font-size="30">(notably in the linear case)</tspan></text>
<text x="2475.4" y="398.7" font-size="49" font-weight="bold" fill="#1f3365" textLength="786.6" lengthAdjust="spacingAndGlyphs">The role of outcomes non-linearity</text>
<rect x="2409.0" y="411.9" width="931.0" height="9.0" fill="url(#rulegrad)"/>
<text x="2420.0" y="901.0" font-size="30" textLength="678.0" lengthAdjust="spacingAndGlyphs">Experiments with semi-synthetic linear outcomes:</text>
<text x="3110.0" y="901.0" font-size="33" font-family='"Liberation Serif", "DejaVu Serif", serif' font-style="italic" textLength="165.6" lengthAdjust="spacingAndGlyphs">ỹ = γ<tspan font-style="normal" font-size="20" dy="-10">⊤</tspan><tspan dy="10">X</tspan> + ϵ</text>
<rect x="2412.0" y="909.0" width="849.0" height="114.0" fill="#fbfbe3"/>
<use href="#hand" x="2421.3" y="930.7" width="40.8" height="20.9" stroke="#d8392b"/>
<text x="2479.0" y="957.0" font-size="35.5" textLength="84.9" lengthAdjust="spacingAndGlyphs">Good</text>
<text x="2572.8" y="957.0" font-size="35.5" textLength="177.5" lengthAdjust="spacingAndGlyphs">imputations</text>
<text x="2759.1" y="957.0" font-size="35.5" textLength="98.4" lengthAdjust="spacingAndGlyphs">matter</text>
<text x="2866.4" y="957.0" font-size="35.5" textLength="61.7" lengthAdjust="spacingAndGlyphs">less</text>
<text x="2937.0" y="957.0" font-size="35.5" textLength="83.0" lengthAdjust="spacingAndGlyphs">when</text>
<text x="3028.8" y="957.0" font-size="35.5" textLength="48.2" lengthAdjust="spacingAndGlyphs">the</text>
<text x="3085.9" y="957.0" font-size="35.5" textLength="133.1" lengthAdjust="spacingAndGlyphs">outcome</text>
<text x="3227.9" y="957.0" font-size="35.5" textLength="25.1" lengthAdjust="spacingAndGlyphs">is</text>
<text x="2456.7" y="1004.7" font-size="35.5" textLength="155.0" lengthAdjust="spacingAndGlyphs">non-linear.</text>
<text x="2479.0" y="1122.0" font-size="49" font-weight="bold" fill="#1f3365" textLength="779.0" lengthAdjust="spacingAndGlyphs">The mask is useful even in MCAR</text>
<rect x="2379.0" y="1134.5" width="967.0" height="9.0" fill="url(#rulegrad)"/>
<text x="2434.5" y="1193.0" font-size="32" textLength="612.5" lengthAdjust="spacingAndGlyphs"><tspan font-weight="bold">Shuffle missingness indicators</tspan> per sample.</text>
<text x="2434.5" y="1236.4" font-size="32" textLength="791.3" lengthAdjust="spacingAndGlyphs"><tspan font-family='"DejaVu Sans", sans-serif'>⇒</tspan> The number of missing values per sample is preserved.</text>
<use href="#hand" x="2444.0" y="1655.1" width="36.5" height="18.7" stroke="#000"/>
<text x="2491.6" y="1678.7" font-size="31.3" textLength="811.4" lengthAdjust="spacingAndGlyphs">Shuffled missingness indicators harm prediction performance.</text>
<use href="#hand" x="2444.0" y="1706.2" width="36.5" height="18.7" stroke="#000"/>
<text x="2497.7" y="1729.8" font-size="31.3">The</text>
<text x="2562.9" y="1729.8" font-size="31.3">true</text>
<text x="2628.1" y="1729.8" font-size="31.3">indicator</text>
<text x="2757.7" y="1729.8" font-size="31.3">reduces</text>
<text x="2880.4" y="1729.8" font-size="31.3">the</text>
<text x="2935.2" y="1729.8" font-size="31.3">effect</text>
<text x="3022.4" y="1729.8" font-size="31.3">size,</text>
<text x="3098.1" y="1729.8" font-size="31.3">but</text>
<text x="3152.9" y="1729.8" font-size="31.3">its</text>
<text x="3195.4" y="1729.8" font-size="31.3">shuffled</text>
<text x="2476.8" y="1771.6" font-size="31.3" textLength="225.0" lengthAdjust="spacingAndGlyphs">version does not.</text>
<rect x="2433.0" y="1779.5" width="879.0" height="66.5" fill="#fbfbe3"/>
<use href="#hand" x="2443.0" y="1801.0" width="40.7" height="20.9" stroke="#d8392b"/>
<text x="2499.0" y="1827.3" font-size="35.5" textLength="704.3" lengthAdjust="spacingAndGlyphs">The mask information is useful even in MCAR.</text>
<text x="2607.0" y="1927.1" font-size="48" font-weight="bold" fill="#1f3365" textLength="457.0" lengthAdjust="spacingAndGlyphs">Take-home message</text>
<rect x="2402.0" y="1938.5" width="931.0" height="9.0" fill="url(#rulegrad)"/>
<rect x="2416.0" y="1962.0" width="920.0" height="163.0" fill="#f6c6c3" rx="32"/>
<text x="2433.6" y="2006.0" font-size="38">With</text>
<text x="2534.5" y="2006.0" font-size="38">powerful</text>
<text x="2703.0" y="2006.0" font-size="38">predictive</text>
<text x="2890.6" y="2006.0" font-size="38">models,</text>
<text x="3048.5" y="2006.0" font-size="38">imputation</text>
<text x="3248.7" y="2006.0" font-size="38">has</text>
<text x="2433.6" y="2057.1" font-size="38">very</text>
<text x="2517.4" y="2057.1" font-size="38">small</text>
<text x="2618.2" y="2057.1" font-size="38">effects</text>
<text x="2741.5" y="2057.1" font-size="38">on</text>
<text x="2795.8" y="2057.1" font-size="38">prediction</text>
<text x="2972.7" y="2057.1" font-size="38">performances,</text>
<text x="3227.6" y="2057.1" font-size="38">even</text>
<text x="2433.6" y="2108.2" font-size="38" textLength="480.4" lengthAdjust="spacingAndGlyphs">more when the mask is used.</text>
<text x="2422.5" y="2173.2" font-size="33" textLength="221.5" lengthAdjust="spacingAndGlyphs">Many questions:</text>
<path d="M2445.7,2200.7 L2469.5,2212.8 L2445.7,2225.0 Z" fill="#000" />
<text x="2483.7" y="2224.2" font-size="33" textLength="645.3" lengthAdjust="spacingAndGlyphs">Efficient way to integrate the mask information?</text>
<path d="M2445.7,2250.9 L2469.5,2263.1 L2445.7,2275.2 Z" fill="#000" />
<text x="2483.7" y="2274.4" font-size="33" textLength="667.6" lengthAdjust="spacingAndGlyphs">Should we measure imputation quality differently?</text>
<path d="M2445.7,2300.5 L2469.5,2312.7 L2445.7,2324.8 Z" fill="#000" />
<text x="2483.7" y="2324.0" font-size="33" textLength="554.8" lengthAdjust="spacingAndGlyphs">Do poor imputations affect uncertainties?</text>
<text x="2654.0" y="2364.4" font-size="21.5" fill="#3b7bc0" textLength="656.0" lengthAdjust="spacingAndGlyphs">[1] Le Morvan et al, What’s a good imputation to predict with missing values?</text>
<rect x="1193.7" y="484.4" width="667.3" height="265.6" fill="#e5e5e5"/>
<rect x="1193.7" y="527.0" width="667.3" height="2.0" fill="#fff"/>
<rect x="1193.7" y="571.4" width="667.3" height="2.0" fill="#fff"/>
<rect x="1193.7" y="613.8" width="667.3" height="6.0" fill="#fff"/>
<rect x="1193.7" y="660.2" width="667.3" height="2.0" fill="#fff"/>
<rect x="1193.7" y="704.6" width="667.3" height="2.0" fill="#fff"/>
<text x="1178.6" y="534.5" font-size="18" fill="#262626" text-anchor="end">+.05</text>
<text x="1178.6" y="623.3" font-size="18" fill="#262626" text-anchor="end">0</text>
<text x="1178.6" y="712.0" font-size="18" fill="#262626" text-anchor="end">-.05</text>
<line x1="1210.2" y1="621.3" x2="1210.2" y2="631.2" stroke="#333" stroke-width="1.4" />
<line x1="1210.2" y1="726.6" x2="1210.2" y2="750.0" stroke="#333" stroke-width="1.4" />
<rect x="1203.2" y="631.2" width="14.0" height="95.5" fill="#5b8fc4" stroke="#333" stroke-width="1.4"/>
<line x1="1205.3" y1="664.2" x2="1215.1" y2="664.2" stroke="#000" stroke-width="3.0" />
<line x1="1224.8" y1="610.8" x2="1224.8" y2="620.6" stroke="#333" stroke-width="1.4" />
<line x1="1224.8" y1="682.1" x2="1224.8" y2="750.0" stroke="#333" stroke-width="1.4" />
<rect x="1217.6" y="620.6" width="14.4" height="61.4" fill="#98bde0" stroke="#333" stroke-width="1.4"/>
<rect x="1217.6" y="620.6" width="14.4" height="61.4" fill="url(#dots)"/>
<line x1="1219.7" y1="638.2" x2="1229.8" y2="638.2" stroke="#000" stroke-width="3.0" />
<line x1="1249.2" y1="609.0" x2="1249.2" y2="620.6" stroke="#333" stroke-width="1.4" />
<line x1="1249.2" y1="704.9" x2="1249.2" y2="750.0" stroke="#333" stroke-width="1.4" />
<rect x="1242.1" y="620.6" width="14.0" height="84.2" fill="#f0a050" stroke="#333" stroke-width="1.4"/>
<line x1="1244.2" y1="651.2" x2="1254.1" y2="651.2" stroke="#000" stroke-width="3.0" />
<line x1="1263.6" y1="601.3" x2="1263.6" y2="616.1" stroke="#333" stroke-width="1.4" />
<line x1="1263.6" y1="664.2" x2="1263.6" y2="725.6" stroke="#333" stroke-width="1.4" />
<rect x="1256.5" y="616.1" width="14.0" height="48.1" fill="#f6c590" stroke="#333" stroke-width="1.4"/>
<rect x="1256.5" y="616.1" width="14.0" height="48.1" fill="url(#dots)"/>
<line x1="1258.6" y1="631.9" x2="1268.5" y2="631.9" stroke="#000" stroke-width="3.0" />
<line x1="1287.4" y1="581.7" x2="1287.4" y2="605.5" stroke="#333" stroke-width="1.4" />
<line x1="1287.4" y1="637.5" x2="1287.4" y2="701.0" stroke="#333" stroke-width="1.4" />
<rect x="1280.4" y="605.5" width="14.0" height="31.9" fill="#6ab162" stroke="#333" stroke-width="1.4"/>
<line x1="1282.5" y1="620.6" x2="1292.3" y2="620.6" stroke="#000" stroke-width="3.0" />
<line x1="1301.6" y1="592.5" x2="1301.6" y2="606.6" stroke="#333" stroke-width="1.4" />
<line x1="1301.6" y1="642.4" x2="1301.6" y2="714.3" stroke="#333" stroke-width="1.4" />
<rect x="1294.8" y="606.6" width="13.7" height="35.8" fill="#a3d49a" stroke="#333" stroke-width="1.4"/>
<rect x="1294.8" y="606.6" width="13.7" height="35.8" fill="url(#dots)"/>
<line x1="1296.8" y1="618.5" x2="1306.4" y2="618.5" stroke="#000" stroke-width="3.0" />
<line x1="1325.3" y1="562.4" x2="1325.3" y2="600.3" stroke="#333" stroke-width="1.4" />
<line x1="1325.3" y1="656.4" x2="1325.3" y2="688.0" stroke="#333" stroke-width="1.4" />
<rect x="1318.3" y="600.3" width="14.0" height="56.2" fill="#d25b57" stroke="#333" stroke-width="1.4"/>
<line x1="1320.4" y1="620.6" x2="1330.2" y2="620.6" stroke="#000" stroke-width="3.0" />
<line x1="1339.9" y1="565.2" x2="1339.9" y2="595.4" stroke="#333" stroke-width="1.4" />
<line x1="1339.9" y1="623.1" x2="1339.9" y2="632.9" stroke="#333" stroke-width="1.4" />
<rect x="1332.7" y="595.4" width="14.4" height="27.7" fill="#e49a99" stroke="#333" stroke-width="1.4"/>
<rect x="1332.7" y="595.4" width="14.4" height="27.7" fill="url(#dots)"/>
<line x1="1334.9" y1="615.4" x2="1344.9" y2="615.4" stroke="#000" stroke-width="3.0" />
<line x1="1450.3" y1="603.8" x2="1450.3" y2="617.8" stroke="#333" stroke-width="1.4" />
<line x1="1450.3" y1="653.3" x2="1450.3" y2="694.0" stroke="#333" stroke-width="1.4" />
<rect x="1443.3" y="617.8" width="14.0" height="35.5" fill="#5b8fc4" stroke="#333" stroke-width="1.4"/>
<line x1="1445.4" y1="628.0" x2="1455.2" y2="628.0" stroke="#000" stroke-width="3.0" />
<line x1="1464.7" y1="600.3" x2="1464.7" y2="610.8" stroke="#333" stroke-width="1.4" />
<line x1="1464.7" y1="635.0" x2="1464.7" y2="682.8" stroke="#333" stroke-width="1.4" />
<rect x="1457.7" y="610.8" width="14.0" height="24.2" fill="#98bde0" stroke="#333" stroke-width="1.4"/>
<rect x="1457.7" y="610.8" width="14.0" height="24.2" fill="url(#dots)"/>
<line x1="1459.8" y1="620.6" x2="1469.6" y2="620.6" stroke="#000" stroke-width="3.0" />
<line x1="1488.5" y1="602.4" x2="1488.5" y2="617.8" stroke="#333" stroke-width="1.4" />
<line x1="1488.5" y1="679.9" x2="1488.5" y2="716.1" stroke="#333" stroke-width="1.4" />
<rect x="1481.5" y="617.8" width="14.0" height="62.1" fill="#f0a050" stroke="#333" stroke-width="1.4"/>
<line x1="1483.6" y1="642.7" x2="1493.5" y2="642.7" stroke="#000" stroke-width="3.0" />
<line x1="1502.9" y1="596.8" x2="1502.9" y2="609.0" stroke="#333" stroke-width="1.4" />
<line x1="1502.9" y1="629.1" x2="1502.9" y2="654.0" stroke="#333" stroke-width="1.4" />
<rect x="1495.9" y="609.0" width="14.0" height="20.0" fill="#f6c590" stroke="#333" stroke-width="1.4"/>
<rect x="1495.9" y="609.0" width="14.0" height="20.0" fill="url(#dots)"/>
<line x1="1498.0" y1="617.1" x2="1507.8" y2="617.1" stroke="#000" stroke-width="3.0" />
<line x1="1527.2" y1="573.2" x2="1527.2" y2="597.5" stroke="#333" stroke-width="1.4" />
<line x1="1527.2" y1="627.3" x2="1527.2" y2="654.7" stroke="#333" stroke-width="1.4" />
<rect x="1520.1" y="597.5" width="14.0" height="29.8" fill="#6ab162" stroke="#333" stroke-width="1.4"/>
<line x1="1522.2" y1="614.3" x2="1532.1" y2="614.3" stroke="#000" stroke-width="3.0" />
<line x1="1541.5" y1="583.1" x2="1541.5" y2="596.4" stroke="#333" stroke-width="1.4" />
<line x1="1541.5" y1="620.6" x2="1541.5" y2="639.9" stroke="#333" stroke-width="1.4" />
<rect x="1534.5" y="596.4" width="14.0" height="24.2" fill="#a3d49a" stroke="#333" stroke-width="1.4"/>
<rect x="1534.5" y="596.4" width="14.0" height="24.2" fill="url(#dots)"/>
<line x1="1536.6" y1="612.9" x2="1546.5" y2="612.9" stroke="#000" stroke-width="3.0" />
<line x1="1565.1" y1="550.4" x2="1565.1" y2="590.4" stroke="#333" stroke-width="1.4" />
<line x1="1565.1" y1="656.4" x2="1565.1" y2="685.2" stroke="#333" stroke-width="1.4" />
<rect x="1558.0" y="590.4" width="14.0" height="66.0" fill="#d25b57" stroke="#333" stroke-width="1.4"/>
<line x1="1560.1" y1="617.8" x2="1570.0" y2="617.8" stroke="#000" stroke-width="3.0" />
<line x1="1579.5" y1="546.6" x2="1579.5" y2="586.6" stroke="#333" stroke-width="1.4" />
<line x1="1579.5" y1="617.8" x2="1579.5" y2="624.1" stroke="#333" stroke-width="1.4" />
<rect x="1572.4" y="586.6" width="14.0" height="31.2" fill="#e49a99" stroke="#333" stroke-width="1.4"/>
<rect x="1572.4" y="586.6" width="14.0" height="31.2" fill="url(#dots)"/>
<line x1="1574.5" y1="607.3" x2="1584.4" y2="607.3" stroke="#000" stroke-width="3.0" />
<line x1="1603.3" y1="598.2" x2="1603.3" y2="610.8" stroke="#333" stroke-width="1.4" />
<line x1="1603.3" y1="644.1" x2="1603.3" y2="682.8" stroke="#333" stroke-width="1.4" />
<rect x="1596.3" y="610.8" width="14.0" height="33.3" fill="#a07cc5" stroke="#333" stroke-width="1.4"/>
<line x1="1598.4" y1="618.5" x2="1608.2" y2="618.5" stroke="#000" stroke-width="3.0" />
<line x1="1690.0" y1="548.3" x2="1690.0" y2="590.4" stroke="#333" stroke-width="1.4" />
<line x1="1690.0" y1="625.2" x2="1690.0" y2="653.3" stroke="#333" stroke-width="1.4" />
<rect x="1683.0" y="590.4" width="14.0" height="34.7" fill="#5b8fc4" stroke="#333" stroke-width="1.4"/>
<line x1="1685.1" y1="615.4" x2="1694.9" y2="615.4" stroke="#000" stroke-width="3.0" />
<line x1="1704.4" y1="548.3" x2="1704.4" y2="589.7" stroke="#333" stroke-width="1.4" />
<line x1="1704.4" y1="624.1" x2="1704.4" y2="651.2" stroke="#333" stroke-width="1.4" />
<rect x="1697.4" y="589.7" width="14.0" height="34.4" fill="#98bde0" stroke="#333" stroke-width="1.4"/>
<rect x="1697.4" y="589.7" width="14.0" height="34.4" fill="url(#dots)"/>
<line x1="1699.5" y1="614.3" x2="1709.3" y2="614.3" stroke="#000" stroke-width="3.0" />
<line x1="1728.3" y1="582.7" x2="1728.3" y2="609.7" stroke="#333" stroke-width="1.4" />
<line x1="1728.3" y1="662.0" x2="1728.3" y2="689.8" stroke="#333" stroke-width="1.4" />
<rect x="1721.3" y="609.7" width="14.0" height="52.3" fill="#f0a050" stroke="#333" stroke-width="1.4"/>
<line x1="1723.4" y1="632.6" x2="1733.2" y2="632.6" stroke="#000" stroke-width="3.0" />
<line x1="1742.7" y1="553.2" x2="1742.7" y2="585.2" stroke="#333" stroke-width="1.4" />
<line x1="1742.7" y1="617.1" x2="1742.7" y2="622.4" stroke="#333" stroke-width="1.4" />
<rect x="1735.6" y="585.2" width="14.0" height="31.9" fill="#f6c590" stroke="#333" stroke-width="1.4"/>
<rect x="1735.6" y="585.2" width="14.0" height="31.9" fill="url(#dots)"/>
<line x1="1737.8" y1="607.3" x2="1747.6" y2="607.3" stroke="#000" stroke-width="3.0" />
<line x1="1766.5" y1="570.8" x2="1766.5" y2="594.3" stroke="#333" stroke-width="1.4" />
<line x1="1766.5" y1="624.1" x2="1766.5" y2="641.7" stroke="#333" stroke-width="1.4" />
<rect x="1759.5" y="594.3" width="14.0" height="29.8" fill="#6ab162" stroke="#333" stroke-width="1.4"/>
<line x1="1761.6" y1="611.5" x2="1771.4" y2="611.5" stroke="#000" stroke-width="3.0" />
<line x1="1780.9" y1="550.4" x2="1780.9" y2="577.5" stroke="#333" stroke-width="1.4" />
<line x1="1780.9" y1="611.9" x2="1780.9" y2="615.4" stroke="#333" stroke-width="1.4" />
<rect x="1773.9" y="577.5" width="14.0" height="34.4" fill="#a3d49a" stroke="#333" stroke-width="1.4"/>
<rect x="1773.9" y="577.5" width="14.0" height="34.4" fill="url(#dots)"/>
<line x1="1776.0" y1="596.8" x2="1785.8" y2="596.8" stroke="#000" stroke-width="3.0" />
<line x1="1805.1" y1="540.6" x2="1805.1" y2="587.3" stroke="#333" stroke-width="1.4" />
<line x1="1805.1" y1="633.3" x2="1805.1" y2="647.0" stroke="#333" stroke-width="1.4" />
<rect x="1798.1" y="587.3" width="14.0" height="46.0" fill="#d25b57" stroke="#333" stroke-width="1.4"/>
<line x1="1800.2" y1="614.3" x2="1810.1" y2="614.3" stroke="#000" stroke-width="3.0" />
<line x1="1819.5" y1="517.1" x2="1819.5" y2="553.2" stroke="#333" stroke-width="1.4" />
<line x1="1819.5" y1="611.9" x2="1819.5" y2="619.6" stroke="#333" stroke-width="1.4" />
<rect x="1812.5" y="553.2" width="14.0" height="58.6" fill="#e49a99" stroke="#333" stroke-width="1.4"/>
<rect x="1812.5" y="553.2" width="14.0" height="58.6" fill="url(#dots)"/>
<line x1="1814.6" y1="589.7" x2="1824.5" y2="589.7" stroke="#000" stroke-width="3.0" />
<line x1="1843.4" y1="515.3" x2="1843.4" y2="582.0" stroke="#333" stroke-width="1.4" />
<line x1="1843.4" y1="618.9" x2="1843.4" y2="641.0" stroke="#333" stroke-width="1.4" />
<rect x="1836.4" y="582.0" width="14.0" height="36.9" fill="#a07cc5" stroke="#333" stroke-width="1.4"/>
<line x1="1838.5" y1="609.4" x2="1848.3" y2="609.4" stroke="#000" stroke-width="3.0" />
<text x="1524.0" y="470.0" font-size="23.5" fill="#262626" text-anchor="middle" textLength="737.5" lengthAdjust="spacingAndGlyphs">Relative prediction performances, MCAR, missingness rate = 50%</text>
<text x="1294.0" y="781.0" font-size="20.5" fill="#262626" text-anchor="middle" textLength="45.0" lengthAdjust="spacingAndGlyphs">MLP</text>
<text x="1533.0" y="781.0" font-size="20.5" fill="#262626" text-anchor="middle" textLength="60.0" lengthAdjust="spacingAndGlyphs">SAINT</text>
<text x="1773.0" y="781.0" font-size="20.5" fill="#262626" text-anchor="middle" textLength="82.0" lengthAdjust="spacingAndGlyphs">XGBoost</text>
<text x="1224.5" y="806.0" font-size="20.5" fill="#262626" textLength="242.0" lengthAdjust="spacingAndGlyphs">Add missingness indicator</text>
<rect x="1219.5" y="820.0" width="42.0" height="15.0" fill="#808080" stroke="#333" stroke-width="1.2"/>
<text x="1279.0" y="836.0" font-size="20.5" fill="#262626" textLength="49.0" lengthAdjust="spacingAndGlyphs">False</text>
<rect x="1372.0" y="820.0" width="41.5" height="15.0" fill="#d0d0d0" stroke="#333" stroke-width="1.2"/>
<rect x="1372.0" y="820.0" width="41.5" height="15.0" fill="url(#dots2)"/>
<text x="1432.0" y="836.0" font-size="20.5" fill="#262626" textLength="40.0" lengthAdjust="spacingAndGlyphs">True</text>
<text x="1654.5" y="804.0" font-size="20.5" fill="#262626" textLength="96.0" lengthAdjust="spacingAndGlyphs">Imputation</text>
<rect x="1534.5" y="816.5" width="45.0" height="16.0" fill="#3a75b0" stroke="#333" stroke-width="1.2"/>
<text x="1594.0" y="831.0" font-size="19.5" fill="#262626" textLength="46.0" lengthAdjust="spacingAndGlyphs">mean</text>
<rect x="1534.5" y="844.5" width="45.0" height="16.0" fill="#ef8636" stroke="#333" stroke-width="1.2"/>
<text x="1594.0" y="859.0" font-size="19.5" fill="#262626" textLength="91.0" lengthAdjust="spacingAndGlyphs">iterativeBR</text>
<rect x="1534.5" y="872.5" width="45.0" height="16.0" fill="#3d9e3d" stroke="#333" stroke-width="1.2"/>
<text x="1594.0" y="887.0" font-size="19.5" fill="#262626" textLength="70.0" lengthAdjust="spacingAndGlyphs">condexp</text>
<rect x="1723.0" y="816.5" width="45.5" height="16.0" fill="#c53a32" stroke="#333" stroke-width="1.2"/>
<text x="1783.5" y="831.0" font-size="19.5" fill="#262626" textLength="85.0" lengthAdjust="spacingAndGlyphs">missforest</text>
<rect x="1723.0" y="844.5" width="45.5" height="16.0" fill="#8e6bb9" stroke="#333" stroke-width="1.2"/>
<text x="1783.5" y="859.0" font-size="19.5" fill="#262626" textLength="43.0" lengthAdjust="spacingAndGlyphs">None</text>
<rect x="2417.6" y="1318.3" width="480.9" height="191.4" fill="#e5e5e5"/>
<rect x="2417.6" y="1348.5" width="480.9" height="1.5" fill="#fff"/>
<rect x="2417.6" y="1380.7" width="480.9" height="1.5" fill="#fff"/>
<rect x="2417.6" y="1412.1" width="480.9" height="4.0" fill="#fff"/>
<rect x="2417.6" y="1445.0" width="480.9" height="1.5" fill="#fff"/>
<rect x="2417.6" y="1477.0" width="480.9" height="1.5" fill="#fff"/>
<text x="2407.0" y="1354.0" font-size="13" fill="#262626" text-anchor="end">+.05</text>
<text x="2407.0" y="1419.0" font-size="13" fill="#262626" text-anchor="end">0</text>
<text x="2407.0" y="1483.0" font-size="13" fill="#262626" text-anchor="end">-.05</text>
<line x1="2429.4" y1="1413.4" x2="2429.4" y2="1416.3" stroke="#333" stroke-width="1.0" />
<line x1="2429.4" y1="1478.3" x2="2429.4" y2="1509.7" stroke="#333" stroke-width="1.0" />
<rect x="2424.4" y="1416.3" width="10.0" height="62.1" fill="#5b8fc4" stroke="#333" stroke-width="1.0"/>
<line x1="2425.9" y1="1441.5" x2="2432.9" y2="1441.5" stroke="#000" stroke-width="2.2" />
<line x1="2439.6" y1="1415.6" x2="2439.6" y2="1424.3" stroke="#333" stroke-width="1.0" />
<line x1="2439.6" y1="1501.4" x2="2439.6" y2="1509.7" stroke="#333" stroke-width="1.0" />
<rect x="2434.6" y="1424.3" width="10.0" height="77.1" fill="#98bde0" stroke="#333" stroke-width="1.0"/>
<rect x="2434.6" y="1424.3" width="10.0" height="77.1" fill="url(#dots2)"/>
<line x1="2436.1" y1="1453.9" x2="2443.1" y2="1453.9" stroke="#000" stroke-width="2.2" />
<line x1="2457.1" y1="1405.2" x2="2457.1" y2="1415.2" stroke="#333" stroke-width="1.0" />
<line x1="2457.1" y1="1455.3" x2="2457.1" y2="1509.7" stroke="#333" stroke-width="1.0" />
<rect x="2452.0" y="1415.2" width="10.2" height="40.1" fill="#f0a050" stroke="#333" stroke-width="1.0"/>
<line x1="2453.6" y1="1426.5" x2="2460.7" y2="1426.5" stroke="#000" stroke-width="2.2" />
<line x1="2467.5" y1="1414.1" x2="2467.5" y2="1419.3" stroke="#333" stroke-width="1.0" />
<line x1="2467.5" y1="1475.1" x2="2467.5" y2="1509.7" stroke="#333" stroke-width="1.0" />
<rect x="2462.5" y="1419.3" width="10.0" height="55.7" fill="#f6c590" stroke="#333" stroke-width="1.0"/>
<rect x="2462.5" y="1419.3" width="10.0" height="55.7" fill="url(#dots2)"/>
<line x1="2464.0" y1="1444.6" x2="2471.0" y2="1444.6" stroke="#000" stroke-width="2.2" />
<line x1="2484.6" y1="1380.1" x2="2484.6" y2="1396.5" stroke="#333" stroke-width="1.0" />
<line x1="2484.6" y1="1416.9" x2="2484.6" y2="1459.8" stroke="#333" stroke-width="1.0" />
<rect x="2479.5" y="1396.5" width="10.2" height="20.5" fill="#6ab162" stroke="#333" stroke-width="1.0"/>
<line x1="2481.0" y1="1411.0" x2="2488.2" y2="1411.0" stroke="#000" stroke-width="2.2" />
<line x1="2494.9" y1="1391.2" x2="2494.9" y2="1411.3" stroke="#333" stroke-width="1.0" />
<line x1="2494.9" y1="1443.9" x2="2494.9" y2="1482.0" stroke="#333" stroke-width="1.0" />
<rect x="2489.9" y="1411.3" width="10.0" height="32.7" fill="#a3d49a" stroke="#333" stroke-width="1.0"/>
<rect x="2489.9" y="1411.3" width="10.0" height="32.7" fill="url(#dots2)"/>
<line x1="2491.4" y1="1418.7" x2="2498.4" y2="1418.7" stroke="#000" stroke-width="2.2" />
<line x1="2512.2" y1="1354.2" x2="2512.2" y2="1391.0" stroke="#333" stroke-width="1.0" />
<line x1="2512.2" y1="1425.0" x2="2512.2" y2="1462.4" stroke="#333" stroke-width="1.0" />
<rect x="2507.1" y="1391.0" width="10.2" height="34.0" fill="#d25b57" stroke="#333" stroke-width="1.0"/>
<line x1="2508.7" y1="1411.9" x2="2515.8" y2="1411.9" stroke="#000" stroke-width="2.2" />
<line x1="2523.0" y1="1379.3" x2="2523.0" y2="1405.2" stroke="#333" stroke-width="1.0" />
<line x1="2523.0" y1="1433.7" x2="2523.0" y2="1453.3" stroke="#333" stroke-width="1.0" />
<rect x="2517.6" y="1405.2" width="10.9" height="28.5" fill="#e49a99" stroke="#333" stroke-width="1.0"/>
<rect x="2517.6" y="1405.2" width="10.9" height="28.5" fill="url(#dots2)"/>
<line x1="2519.2" y1="1417.8" x2="2526.8" y2="1417.8" stroke="#000" stroke-width="2.2" />
<line x1="2602.4" y1="1391.2" x2="2602.4" y2="1403.2" stroke="#333" stroke-width="1.0" />
<line x1="2602.4" y1="1426.5" x2="2602.4" y2="1461.8" stroke="#333" stroke-width="1.0" />
<rect x="2597.3" y="1403.2" width="10.2" height="23.3" fill="#5b8fc4" stroke="#333" stroke-width="1.0"/>
<line x1="2598.8" y1="1413.4" x2="2606.0" y2="1413.4" stroke="#000" stroke-width="2.2" />
<line x1="2612.6" y1="1410.8" x2="2612.6" y2="1417.1" stroke="#333" stroke-width="1.0" />
<line x1="2612.6" y1="1459.2" x2="2612.6" y2="1490.3" stroke="#333" stroke-width="1.0" />
<rect x="2607.7" y="1417.1" width="9.8" height="42.0" fill="#98bde0" stroke="#333" stroke-width="1.0"/>
<rect x="2607.7" y="1417.1" width="9.8" height="42.0" fill="url(#dots2)"/>
<line x1="2609.2" y1="1432.6" x2="2616.1" y2="1432.6" stroke="#000" stroke-width="2.2" />
<line x1="2629.9" y1="1401.5" x2="2629.9" y2="1412.6" stroke="#333" stroke-width="1.0" />
<line x1="2629.9" y1="1438.0" x2="2629.9" y2="1464.0" stroke="#333" stroke-width="1.0" />
<rect x="2624.9" y="1412.6" width="10.0" height="25.5" fill="#f0a050" stroke="#333" stroke-width="1.0"/>
<line x1="2626.4" y1="1420.0" x2="2633.5" y2="1420.0" stroke="#000" stroke-width="2.2" />
<line x1="2640.2" y1="1415.2" x2="2640.2" y2="1420.0" stroke="#333" stroke-width="1.0" />
<line x1="2640.2" y1="1455.5" x2="2640.2" y2="1499.5" stroke="#333" stroke-width="1.0" />
<rect x="2635.2" y="1420.0" width="10.0" height="35.5" fill="#f6c590" stroke="#333" stroke-width="1.0"/>
<rect x="2635.2" y="1420.0" width="10.0" height="35.5" fill="url(#dots2)"/>
<line x1="2636.7" y1="1435.7" x2="2643.7" y2="1435.7" stroke="#000" stroke-width="2.2" />
<line x1="2657.5" y1="1375.8" x2="2657.5" y2="1390.1" stroke="#333" stroke-width="1.0" />
<line x1="2657.5" y1="1412.4" x2="2657.5" y2="1417.8" stroke="#333" stroke-width="1.0" />
<rect x="2652.4" y="1390.1" width="10.2" height="22.2" fill="#6ab162" stroke="#333" stroke-width="1.0"/>
<line x1="2653.9" y1="1404.7" x2="2661.1" y2="1404.7" stroke="#000" stroke-width="2.2" />
<line x1="2667.7" y1="1394.5" x2="2667.7" y2="1404.3" stroke="#333" stroke-width="1.0" />
<line x1="2667.7" y1="1425.0" x2="2667.7" y2="1445.0" stroke="#333" stroke-width="1.0" />
<rect x="2662.8" y="1404.3" width="9.8" height="20.7" fill="#a3d49a" stroke="#333" stroke-width="1.0"/>
<rect x="2662.8" y="1404.3" width="9.8" height="20.7" fill="url(#dots2)"/>
<line x1="2664.3" y1="1412.8" x2="2671.2" y2="1412.8" stroke="#000" stroke-width="2.2" />
<line x1="2685.2" y1="1352.0" x2="2685.2" y2="1383.6" stroke="#333" stroke-width="1.0" />
<line x1="2685.2" y1="1421.5" x2="2685.2" y2="1447.2" stroke="#333" stroke-width="1.0" />
<rect x="2680.0" y="1383.6" width="10.2" height="37.9" fill="#d25b57" stroke="#333" stroke-width="1.0"/>
<line x1="2681.6" y1="1409.1" x2="2688.7" y2="1409.1" stroke="#000" stroke-width="2.2" />
<line x1="2695.5" y1="1376.4" x2="2695.5" y2="1399.9" stroke="#333" stroke-width="1.0" />
<line x1="2695.5" y1="1432.2" x2="2695.5" y2="1459.8" stroke="#333" stroke-width="1.0" />
<rect x="2690.5" y="1399.9" width="10.0" height="32.2" fill="#e49a99" stroke="#333" stroke-width="1.0"/>
<rect x="2690.5" y="1399.9" width="10.0" height="32.2" fill="url(#dots2)"/>
<line x1="2692.0" y1="1415.8" x2="2699.0" y2="1415.8" stroke="#000" stroke-width="2.2" />
<line x1="2712.6" y1="1376.4" x2="2712.6" y2="1392.3" stroke="#333" stroke-width="1.0" />
<line x1="2712.6" y1="1420.6" x2="2712.6" y2="1446.8" stroke="#333" stroke-width="1.0" />
<rect x="2707.5" y="1392.3" width="10.2" height="28.3" fill="#a07cc5" stroke="#333" stroke-width="1.0"/>
<line x1="2709.0" y1="1408.4" x2="2716.2" y2="1408.4" stroke="#000" stroke-width="2.2" />
<line x1="2775.2" y1="1347.0" x2="2775.2" y2="1374.9" stroke="#333" stroke-width="1.0" />
<line x1="2775.2" y1="1416.3" x2="2775.2" y2="1436.3" stroke="#333" stroke-width="1.0" />
<rect x="2770.2" y="1374.9" width="10.0" height="41.4" fill="#5b8fc4" stroke="#333" stroke-width="1.0"/>
<line x1="2771.7" y1="1409.1" x2="2778.7" y2="1409.1" stroke="#000" stroke-width="2.2" />
<line x1="2785.4" y1="1350.5" x2="2785.4" y2="1381.2" stroke="#333" stroke-width="1.0" />
<line x1="2785.4" y1="1420.0" x2="2785.4" y2="1437.4" stroke="#333" stroke-width="1.0" />
<rect x="2780.4" y="1381.2" width="10.0" height="38.8" fill="#98bde0" stroke="#333" stroke-width="1.0"/>
<rect x="2780.4" y="1381.2" width="10.0" height="38.8" fill="url(#dots2)"/>
<line x1="2781.9" y1="1411.0" x2="2788.9" y2="1411.0" stroke="#000" stroke-width="2.2" />
<line x1="2802.6" y1="1388.8" x2="2802.6" y2="1406.9" stroke="#333" stroke-width="1.0" />
<line x1="2802.6" y1="1427.2" x2="2802.6" y2="1444.6" stroke="#333" stroke-width="1.0" />
<rect x="2797.6" y="1406.9" width="10.0" height="20.3" fill="#f0a050" stroke="#333" stroke-width="1.0"/>
<line x1="2799.1" y1="1415.0" x2="2806.1" y2="1415.0" stroke="#000" stroke-width="2.2" />
<line x1="2812.9" y1="1387.5" x2="2812.9" y2="1404.1" stroke="#333" stroke-width="1.0" />
<line x1="2812.9" y1="1427.8" x2="2812.9" y2="1443.5" stroke="#333" stroke-width="1.0" />
<rect x="2807.9" y="1404.1" width="10.0" height="23.7" fill="#f6c590" stroke="#333" stroke-width="1.0"/>
<rect x="2807.9" y="1404.1" width="10.0" height="23.7" fill="url(#dots2)"/>
<line x1="2809.4" y1="1415.0" x2="2816.4" y2="1415.0" stroke="#000" stroke-width="2.2" />
<line x1="2830.3" y1="1370.1" x2="2830.3" y2="1385.1" stroke="#333" stroke-width="1.0" />
<line x1="2830.3" y1="1410.4" x2="2830.3" y2="1414.1" stroke="#333" stroke-width="1.0" />
<rect x="2825.3" y="1385.1" width="10.0" height="25.3" fill="#6ab162" stroke="#333" stroke-width="1.0"/>
<line x1="2826.8" y1="1398.9" x2="2833.8" y2="1398.9" stroke="#000" stroke-width="2.2" />
<line x1="2840.5" y1="1374.5" x2="2840.5" y2="1387.7" stroke="#333" stroke-width="1.0" />
<line x1="2840.5" y1="1411.3" x2="2840.5" y2="1414.7" stroke="#333" stroke-width="1.0" />
<rect x="2835.5" y="1387.7" width="10.0" height="23.5" fill="#a3d49a" stroke="#333" stroke-width="1.0"/>
<rect x="2835.5" y="1387.7" width="10.0" height="23.5" fill="url(#dots2)"/>
<line x1="2837.0" y1="1398.9" x2="2844.0" y2="1398.9" stroke="#000" stroke-width="2.2" />
<line x1="2858.0" y1="1339.6" x2="2858.0" y2="1377.3" stroke="#333" stroke-width="1.0" />
<line x1="2858.0" y1="1414.1" x2="2858.0" y2="1424.3" stroke="#333" stroke-width="1.0" />
<rect x="2852.9" y="1377.3" width="10.0" height="36.8" fill="#d25b57" stroke="#333" stroke-width="1.0"/>
<line x1="2854.4" y1="1403.0" x2="2861.5" y2="1403.0" stroke="#000" stroke-width="2.2" />
<line x1="2868.2" y1="1341.8" x2="2868.2" y2="1378.4" stroke="#333" stroke-width="1.0" />
<line x1="2868.2" y1="1413.4" x2="2868.2" y2="1425.4" stroke="#333" stroke-width="1.0" />
<rect x="2863.2" y="1378.4" width="10.0" height="35.1" fill="#e49a99" stroke="#333" stroke-width="1.0"/>
<rect x="2863.2" y="1378.4" width="10.0" height="35.1" fill="url(#dots2)"/>
<line x1="2864.7" y1="1406.5" x2="2871.7" y2="1406.5" stroke="#000" stroke-width="2.2" />
<line x1="2885.5" y1="1323.1" x2="2885.5" y2="1365.5" stroke="#333" stroke-width="1.0" />
<line x1="2885.5" y1="1413.2" x2="2885.5" y2="1426.5" stroke="#333" stroke-width="1.0" />
<rect x="2880.4" y="1365.5" width="10.2" height="47.7" fill="#a07cc5" stroke="#333" stroke-width="1.0"/>
<line x1="2881.9" y1="1400.2" x2="2889.1" y2="1400.2" stroke="#000" stroke-width="2.2" />
<text x="2657.5" y="1307.0" font-size="17" fill="#262626" text-anchor="middle" textLength="411.0" lengthAdjust="spacingAndGlyphs">Performances with shuffled missingness indicators.</text>
<text x="2488.9" y="1531.0" font-size="14.5" fill="#262626" text-anchor="middle" textLength="31.0" lengthAdjust="spacingAndGlyphs">MLP</text>
<text x="2661.8" y="1531.0" font-size="14.5" fill="#262626" text-anchor="middle" textLength="42.0" lengthAdjust="spacingAndGlyphs">SAINT</text>
<text x="2833.8" y="1531.0" font-size="14.5" fill="#262626" text-anchor="middle" textLength="59.0" lengthAdjust="spacingAndGlyphs">XGBoost</text>
<text x="2436.0" y="1549.6" font-size="14.5" fill="#262626" textLength="232.0" lengthAdjust="spacingAndGlyphs">Add shuffled missingness indicator</text>
<text x="2749.0" y="1547.8" font-size="14.5" fill="#262626" textLength="69.6" lengthAdjust="spacingAndGlyphs">Imputation</text>
<rect x="2460.0" y="1560.5" width="32.0" height="10.8" fill="#808080" stroke="#333" stroke-width="1"/>
<text x="2503.0" y="1570.5" font-size="14.5" fill="#262626" textLength="34.0" lengthAdjust="spacingAndGlyphs">False</text>
<rect x="2570.0" y="1560.5" width="30.8" height="10.8" fill="#d0d0d0" stroke="#333" stroke-width="1"/>
<rect x="2570.0" y="1560.5" width="30.8" height="10.8" fill="url(#dots2)"/>
<text x="2613.0" y="1570.5" font-size="14.5" fill="#262626" textLength="29.0" lengthAdjust="spacingAndGlyphs">True</text>
<rect x="2663.0" y="1557.8" width="32.0" height="10.5" fill="#3a75b0" stroke="#333" stroke-width="1"/>
<text x="2705.4" y="1568.1" font-size="13.5" fill="#262626" textLength="32.0" lengthAdjust="spacingAndGlyphs">mean</text>
<rect x="2663.0" y="1577.9" width="32.0" height="10.5" fill="#ef8636" stroke="#333" stroke-width="1"/>
<text x="2705.4" y="1588.2" font-size="13.5" fill="#262626" textLength="66.0" lengthAdjust="spacingAndGlyphs">iterativeBR</text>
<rect x="2663.0" y="1598.0" width="32.0" height="10.5" fill="#3d9e3d" stroke="#333" stroke-width="1"/>
<text x="2705.4" y="1608.3" font-size="13.5" fill="#262626" textLength="50.0" lengthAdjust="spacingAndGlyphs">condexp</text>
<rect x="2799.0" y="1557.8" width="31.8" height="10.5" fill="#c53a32" stroke="#333" stroke-width="1"/>
<text x="2842.6" y="1568.1" font-size="13.5" fill="#262626" textLength="61.0" lengthAdjust="spacingAndGlyphs">missforest</text>
<rect x="2799.0" y="1577.9" width="31.8" height="10.5" fill="#8e6bb9" stroke="#333" stroke-width="1"/>
<text x="2842.6" y="1588.2" font-size="13.5" fill="#262626" textLength="31.0" lengthAdjust="spacingAndGlyphs">None</text>
<rect x="1576.5" y="1103.5" width="294.5" height="228.5" fill="#e6e6e6"/>
<rect x="1576.5" y="1112.0" width="294.5" height="2.0" fill="#fff"/>
<rect x="1576.5" y="1202.5" width="294.5" height="2.0" fill="#fff"/>
<rect x="1576.5" y="1293.0" width="294.5" height="2.0" fill="#fff"/>
<rect x="1632.0" y="1103.5" width="2.0" height="228.5" fill="#fff"/>
<rect x="1734.5" y="1103.5" width="2.0" height="228.5" fill="#fff"/>
<rect x="1836.0" y="1103.5" width="2.0" height="228.5" fill="#fff"/>
<text x="1633.0" y="1365.0" font-size="21" fill="#262626" text-anchor="middle">−0.2</text>
<text x="1735.5" y="1365.0" font-size="21" fill="#262626" text-anchor="middle">0.0</text>
<text x="1837.0" y="1365.0" font-size="21" fill="#262626" text-anchor="middle">0.2</text>
<rect x="1880.0" y="1103.5" width="295.5" height="228.5" fill="#e6e6e6"/>
<rect x="1880.0" y="1112.0" width="295.5" height="2.0" fill="#fff"/>
<rect x="1880.0" y="1202.5" width="295.5" height="2.0" fill="#fff"/>
<rect x="1880.0" y="1293.0" width="295.5" height="2.0" fill="#fff"/>
<rect x="1936.0" y="1103.5" width="2.0" height="228.5" fill="#fff"/>
<rect x="2038.5" y="1103.5" width="2.0" height="228.5" fill="#fff"/>
<rect x="2139.5" y="1103.5" width="2.0" height="228.5" fill="#fff"/>
<text x="1937.0" y="1365.0" font-size="21" fill="#262626" text-anchor="middle">−0.2</text>
<text x="2039.5" y="1365.0" font-size="21" fill="#262626" text-anchor="middle">0.0</text>
<text x="2140.5" y="1365.0" font-size="21" fill="#262626" text-anchor="middle">0.2</text>
<text x="1548.0" y="1120.5" font-size="21" fill="#262626" text-anchor="end">0.05</text>
<text x="1548.0" y="1211.0" font-size="21" fill="#262626" text-anchor="end">0.00</text>
<text x="1548.0" y="1301.5" font-size="21" fill="#262626" text-anchor="end">−0.05</text>
<text x="1723.0" y="1090.0" font-size="24" fill="#262626" text-anchor="middle" textLength="52.0" lengthAdjust="spacingAndGlyphs">MLP</text>
<text x="2027.5" y="1090.0" font-size="24" fill="#262626" text-anchor="middle" textLength="181.0" lengthAdjust="spacingAndGlyphs">MLP + indicator</text>
<text x="1590.5" y="1131.5" font-size="24" fill="#262626" textLength="170.0" lengthAdjust="spacingAndGlyphs">correlation: 0.64</text>
<text x="1590.5" y="1156.5" font-size="24" fill="#262626" textLength="116.0" lengthAdjust="spacingAndGlyphs">slope: 0.23</text>
<text x="1894.0" y="1131.5" font-size="24" fill="#262626" textLength="179.0" lengthAdjust="spacingAndGlyphs">correlation: -0.13</text>
<text x="1894.0" y="1156.5" font-size="24" fill="#262626" textLength="124.0" lengthAdjust="spacingAndGlyphs">slope: -0.01</text>
<text x="1709.5" y="1411.0" font-size="24" fill="#262626" textLength="367.5" lengthAdjust="spacingAndGlyphs">Relative imputation recovery <tspan font-style="italic">R</tspan><tspan font-size="16" dy="-10">2</tspan></text>
<text transform="translate(1480,1242) rotate(-90)" text-anchor="middle" font-size="24" fill="#262626" textLength="250" lengthAdjust="spacingAndGlyphs">Relative prediction <tspan font-style="italic">R</tspan><tspan font-size="16" dy="-10">2</tspan></text>
<circle cx="1734.0" cy="1126.0" r="4.6" fill="#3b78b8" />
<circle cx="1764.5" cy="1145.0" r="4.6" fill="#3b78b8" />
<circle cx="1723.0" cy="1151.5" r="4.6" fill="#3b78b8" />
<circle cx="1729.5" cy="1150.0" r="4.6" fill="#3b78b8" />
<circle cx="1734.5" cy="1155.0" r="4.6" fill="#3b78b8" />
<circle cx="1714.5" cy="1159.0" r="4.6" fill="#3b78b8" />
<circle cx="1728.0" cy="1160.0" r="4.6" fill="#3b78b8" />
<circle cx="1735.5" cy="1169.0" r="4.6" fill="#3b78b8" />
<circle cx="1736.0" cy="1174.0" r="4.6" fill="#3b78b8" />
<circle cx="1732.0" cy="1152.5" r="4.6" fill="#3b78b8" />
<circle cx="2023.0" cy="1188.5" r="4.6" fill="#3b78b8" />
<circle cx="2028.0" cy="1189.0" r="4.6" fill="#3b78b8" />
<circle cx="2033.0" cy="1190.0" r="4.6" fill="#3b78b8" />
<circle cx="2038.0" cy="1195.0" r="4.6" fill="#3b78b8" />
<circle cx="2043.0" cy="1196.0" r="4.6" fill="#3b78b8" />
<circle cx="2035.5" cy="1202.0" r="4.6" fill="#3b78b8" />
<circle cx="2042.0" cy="1206.0" r="4.6" fill="#3b78b8" />
<circle cx="2066.5" cy="1200.0" r="4.6" fill="#3b78b8" />
<circle cx="2030.5" cy="1223.0" r="4.6" fill="#3b78b8" />
<circle cx="2034.0" cy="1199.0" r="4.6" fill="#3b78b8" />
<circle cx="1694.0" cy="1194.5" r="4.6" fill="#ef8a36" />
<circle cx="1695.0" cy="1203.5" r="4.6" fill="#ef8a36" />
<circle cx="1689.0" cy="1213.0" r="4.6" fill="#ef8a36" />
<circle cx="1693.0" cy="1214.0" r="4.6" fill="#ef8a36" />
<circle cx="1696.5" cy="1225.0" r="4.6" fill="#ef8a36" />
<circle cx="1713.5" cy="1208.5" r="4.6" fill="#ef8a36" />
<circle cx="1716.5" cy="1212.5" r="4.6" fill="#ef8a36" />
<circle cx="1731.5" cy="1195.5" r="4.6" fill="#ef8a36" />
<circle cx="1733.0" cy="1230.5" r="4.6" fill="#ef8a36" />
<circle cx="1612.0" cy="1256.5" r="4.6" fill="#ef8a36" />
<circle cx="1984.0" cy="1177.0" r="4.6" fill="#ef8a36" />
<circle cx="1998.0" cy="1185.0" r="4.6" fill="#ef8a36" />
<circle cx="2033.5" cy="1180.0" r="4.6" fill="#ef8a36" />
<circle cx="2000.5" cy="1200.0" r="4.6" fill="#ef8a36" />
<circle cx="2018.0" cy="1191.0" r="4.6" fill="#ef8a36" />
<circle cx="1914.0" cy="1204.0" r="4.6" fill="#ef8a36" />
<circle cx="2004.5" cy="1216.0" r="4.6" fill="#ef8a36" />
<circle cx="2007.0" cy="1220.5" r="4.6" fill="#ef8a36" />
<circle cx="2013.0" cy="1220.0" r="4.6" fill="#ef8a36" />
<circle cx="2041.5" cy="1225.0" r="4.6" fill="#ef8a36" />
<circle cx="1805.0" cy="1133.5" r="4.6" fill="#4aa03f" />
<circle cx="1800.5" cy="1143.5" r="4.6" fill="#4aa03f" />
<circle cx="1798.0" cy="1150.0" r="4.6" fill="#4aa03f" />
<circle cx="1797.0" cy="1155.0" r="4.6" fill="#4aa03f" />
<circle cx="1803.0" cy="1150.0" r="4.6" fill="#4aa03f" />
<circle cx="1808.0" cy="1150.5" r="4.6" fill="#4aa03f" />
<circle cx="1799.0" cy="1159.0" r="4.6" fill="#4aa03f" />
<circle cx="1794.5" cy="1171.0" r="4.6" fill="#4aa03f" />
<circle cx="1834.5" cy="1142.5" r="4.6" fill="#4aa03f" />
<circle cx="1793.0" cy="1152.5" r="4.6" fill="#4aa03f" />
<circle cx="2100.5" cy="1180.0" r="4.6" fill="#4aa03f" />
<circle cx="2112.0" cy="1181.5" r="4.6" fill="#4aa03f" />
<circle cx="2136.5" cy="1188.0" r="4.6" fill="#4aa03f" />
<circle cx="2106.5" cy="1209.0" r="4.6" fill="#4aa03f" />
<circle cx="2095.0" cy="1219.5" r="4.6" fill="#4aa03f" />
<circle cx="2115.0" cy="1217.5" r="4.6" fill="#4aa03f" />
<circle cx="2100.5" cy="1226.0" r="4.6" fill="#4aa03f" />
<circle cx="2106.0" cy="1225.0" r="4.6" fill="#4aa03f" />
<circle cx="2105.0" cy="1211.0" r="4.6" fill="#4aa03f" />
<circle cx="2108.0" cy="1207.5" r="4.6" fill="#4aa03f" />
<circle cx="1677.5" cy="1268.5" r="4.6" fill="#cc3a31" />
<circle cx="1730.0" cy="1267.5" r="4.6" fill="#cc3a31" />
<circle cx="1713.5" cy="1283.0" r="4.6" fill="#cc3a31" />
<circle cx="1700.0" cy="1286.0" r="4.6" fill="#cc3a31" />
<circle cx="1705.5" cy="1286.5" r="4.6" fill="#cc3a31" />
<circle cx="1714.5" cy="1294.0" r="4.6" fill="#cc3a31" />
<circle cx="1711.5" cy="1297.5" r="4.6" fill="#cc3a31" />
<circle cx="1710.0" cy="1303.0" r="4.6" fill="#cc3a31" />
<circle cx="1725.5" cy="1302.5" r="4.6" fill="#cc3a31" />
<circle cx="1683.0" cy="1323.5" r="4.6" fill="#cc3a31" />
<circle cx="1987.5" cy="1188.5" r="4.6" fill="#cc3a31" />
<circle cx="1998.0" cy="1182.5" r="4.6" fill="#cc3a31" />
<circle cx="2009.5" cy="1180.0" r="4.6" fill="#cc3a31" />
<circle cx="2020.5" cy="1182.5" r="4.6" fill="#cc3a31" />
<circle cx="1990.5" cy="1215.5" r="4.6" fill="#cc3a31" />
<circle cx="1998.0" cy="1211.0" r="4.6" fill="#cc3a31" />
<circle cx="2013.0" cy="1214.0" r="4.6" fill="#cc3a31" />
<circle cx="1998.0" cy="1216.0" r="4.6" fill="#cc3a31" />
<circle cx="2038.0" cy="1219.0" r="4.6" fill="#cc3a31" />
<circle cx="2041.5" cy="1232.0" r="4.6" fill="#cc3a31" />
<line x1="1600.5" y1="1312.5" x2="1847.0" y2="1113.0" stroke="#000" stroke-width="3" />
<line x1="1891.5" y1="1196.0" x2="2163.0" y2="1208.5" stroke="#000" stroke-width="3" />
<text x="2220.3" y="1188.9" font-size="20.5" fill="#262626" textLength="99.3" lengthAdjust="spacingAndGlyphs">Imputation</text>
<circle cx="2216.4" cy="1211.6" r="7.4" fill="#3b78b8" />
<text x="2228.6" y="1219.4" font-size="20.5" fill="#262626" textLength="52.5" lengthAdjust="spacingAndGlyphs">mean</text>
<circle cx="2216.4" cy="1242.5" r="7.4" fill="#ef8a36" />
<text x="2228.6" y="1249.9" font-size="20.5" fill="#262626" textLength="105.0" lengthAdjust="spacingAndGlyphs">iterativeBR</text>
<circle cx="2216.4" cy="1273.5" r="7.4" fill="#4aa03f" />
<text x="2228.6" y="1280.9" font-size="20.5" fill="#262626" textLength="80.4" lengthAdjust="spacingAndGlyphs">condexp</text>
<circle cx="2216.4" cy="1304.0" r="7.4" fill="#cc3a31" />
<text x="2228.6" y="1311.3" font-size="20.5" fill="#262626" textLength="97.5" lengthAdjust="spacingAndGlyphs">missforest</text>
<line x1="1313.8" y1="1482.5" x2="1864.0" y2="1482.5" stroke="#d0d0d0" stroke-width="1.6" />
<line x1="1313.8" y1="1550.5" x2="1864.0" y2="1550.5" stroke="#d0d0d0" stroke-width="1.6" />
<line x1="1313.8" y1="1618.5" x2="1864.0" y2="1618.5" stroke="#d0d0d0" stroke-width="1.6" />
<line x1="1313.8" y1="1686.5" x2="1864.0" y2="1686.5" stroke="#d0d0d0" stroke-width="1.6" />
<line x1="1313.8" y1="1754.5" x2="1864.0" y2="1754.5" stroke="#d0d0d0" stroke-width="1.6" />
<line x1="1313.8" y1="1890.5" x2="1864.0" y2="1890.5" stroke="#d0d0d0" stroke-width="1.6" />
<line x1="1313.8" y1="1958.5" x2="1864.0" y2="1958.5" stroke="#d0d0d0" stroke-width="1.6" />
<rect x="1313.8" y="1819.5" width="550.2" height="6.0" fill="#c8c8c8"/>
<line x1="1313.8" y1="1482.5" x2="1313.8" y2="1958.5" stroke="#cccccc" stroke-width="2" />
<line x1="1313.8" y1="1958.5" x2="1864.0" y2="1958.5" stroke="#cccccc" stroke-width="2" />
<text x="1298.0" y="1489.8" font-size="20.5" fill="#262626" text-anchor="end">0.25</text>
<text x="1298.0" y="1557.8" font-size="20.5" fill="#262626" text-anchor="end">0.20</text>
<text x="1298.0" y="1625.8" font-size="20.5" fill="#262626" text-anchor="end">0.15</text>
<text x="1298.0" y="1693.8" font-size="20.5" fill="#262626" text-anchor="end">0.10</text>
<text x="1298.0" y="1761.8" font-size="20.5" fill="#262626" text-anchor="end">0.05</text>
<text x="1298.0" y="1829.8" font-size="20.5" fill="#262626" text-anchor="end">0.00</text>
<text x="1298.0" y="1897.8" font-size="20.5" fill="#262626" text-anchor="end">−0.05</text>
<text x="1298.0" y="1965.8" font-size="20.5" fill="#262626" text-anchor="end">−0.10</text>
<rect x="1338.5" y="1633.5" width="72.0" height="145.5" fill="#bfbfbf" stroke="#cfcfcf" stroke-width="3"/>
<rect x="1410.5" y="1721.9" width="72.0" height="93.8" fill="#f2f2f2" stroke="#d9d9d9" stroke-width="3"/>
<rect x="1516.8" y="1714.0" width="72.0" height="104.4" fill="#bfbfbf" stroke="#cfcfcf" stroke-width="3"/>
<rect x="1588.8" y="1753.1" width="72.0" height="65.3" fill="#f2f2f2" stroke="#d9d9d9" stroke-width="3"/>
<rect x="1695.0" y="1761.3" width="72.0" height="76.2" fill="#bfbfbf" stroke="#cfcfcf" stroke-width="3"/>
<rect x="1767.0" y="1766.7" width="72.0" height="54.4" fill="#f2f2f2" stroke="#d9d9d9" stroke-width="3"/>
<circle cx="1393.8" cy="1502.6" r="6.0" fill="#843c39" stroke="#fff" stroke-width="1.2" />
<circle cx="1399.2" cy="1511.8" r="6.0" fill="#8c6d31" stroke="#fff" stroke-width="1.2" />
<path d="M1393.8,1516.6 L1400.4,1528.0 L1387.2,1528.0 Z" fill="#5254a3" stroke="#fff" stroke-width="1.2" />
<circle cx="1353.3" cy="1572.9" r="6.0" fill="#8ca252" stroke="#fff" stroke-width="1.2" />
<circle cx="1389.0" cy="1626.9" r="6.0" fill="#6b6ecf" stroke="#fff" stroke-width="1.2" />
<circle cx="1378.7" cy="1637.1" r="6.0" fill="#e7969c" stroke="#fff" stroke-width="1.2" />
<circle cx="1370.6" cy="1662.5" r="6.0" fill="#e7cb94" stroke="#fff" stroke-width="1.2" />
<circle cx="1394.9" cy="1664.7" r="6.0" fill="#393b79" stroke="#fff" stroke-width="1.2" />
<circle cx="1350.6" cy="1692.2" r="6.0" fill="#9c9ede" stroke="#fff" stroke-width="1.2" />
<circle cx="1363.1" cy="1707.3" r="6.0" fill="#e7ba52" stroke="#fff" stroke-width="1.2" />
<circle cx="1371.2" cy="1711.7" r="6.0" fill="#7b4173" stroke="#fff" stroke-width="1.2" />
<circle cx="1383.6" cy="1730.6" r="6.0" fill="#cedb9c" stroke="#fff" stroke-width="1.2" />
<path d="M1354.9,1761.3 L1361.6,1772.7 L1348.3,1772.7 Z" fill="#b5cf6b" stroke="#fff" stroke-width="1.2" />
<path d="M1393.8,1757.0 L1400.4,1768.4 L1387.2,1768.4 Z" fill="#ad494a" stroke="#fff" stroke-width="1.2" />
<path d="M1390.1,1782.9 L1396.7,1794.3 L1383.4,1794.3 Z" fill="#ce6dbd" stroke="#fff" stroke-width="1.2" />
<path d="M1356.0,1795.9 L1362.6,1807.3 L1349.4,1807.3 Z" fill="#637939" stroke="#fff" stroke-width="1.2" />
<circle cx="1358.7" cy="1813.2" r="6.0" fill="#a55194" stroke="#fff" stroke-width="1.2" />
<path d="M1369.5,1812.6 L1376.1,1824.0 L1362.9,1824.0 Z" fill="#bd9e39" stroke="#fff" stroke-width="1.2" />
<circle cx="1427.3" cy="1620.9" r="6.0" fill="#843c39" stroke="#fff" stroke-width="1.2" />
<path d="M1460.8,1602.0 L1467.4,1613.4 L1454.2,1613.4 Z" fill="#5254a3" stroke="#fff" stroke-width="1.2" />
<circle cx="1462.4" cy="1669.5" r="6.0" fill="#8ca252" stroke="#fff" stroke-width="1.2" />
<circle cx="1432.7" cy="1725.2" r="6.0" fill="#6b6ecf" stroke="#fff" stroke-width="1.2" />
<circle cx="1447.8" cy="1717.6" r="6.0" fill="#e7969c" stroke="#fff" stroke-width="1.2" />
<path d="M1456.5,1711.1 L1463.1,1722.5 L1449.9,1722.5 Z" fill="#9c9ede" stroke="#fff" stroke-width="1.2" />
<path d="M1443.5,1738.1 L1450.1,1749.5 L1436.9,1749.5 Z" fill="#393b79" stroke="#fff" stroke-width="1.2" />
<circle cx="1435.4" cy="1751.1" r="6.0" fill="#cedb9c" stroke="#fff" stroke-width="1.2" />
<path d="M1434.3,1751.6 L1441.0,1763.0 L1427.7,1763.0 Z" fill="#b5cf6b" stroke="#fff" stroke-width="1.2" />
<circle cx="1421.9" cy="1768.9" r="6.0" fill="#7b4173" stroke="#fff" stroke-width="1.2" />
<circle cx="1457.6" cy="1772.7" r="6.0" fill="#ad494a" stroke="#fff" stroke-width="1.2" />
<path d="M1433.3,1773.2 L1439.9,1784.6 L1426.6,1784.6 Z" fill="#ce6dbd" stroke="#fff" stroke-width="1.2" />
<path d="M1419.8,1781.3 L1426.4,1792.7 L1413.1,1792.7 Z" fill="#e7ba52" stroke="#fff" stroke-width="1.2" />
<path d="M1430.0,1809.4 L1436.6,1820.8 L1423.4,1820.8 Z" fill="#637939" stroke="#fff" stroke-width="1.2" />
<path d="M1453.2,1817.5 L1459.9,1828.9 L1446.6,1828.9 Z" fill="#e7cb94" stroke="#fff" stroke-width="1.2" />
<path d="M1463.0,1813.7 L1469.6,1825.1 L1456.4,1825.1 Z" fill="#bd9e39" stroke="#fff" stroke-width="1.2" />
<circle cx="1472.1" cy="1815.4" r="6.0" fill="#a55194" stroke="#fff" stroke-width="1.2" />
<path d="M1458.1,1833.7 L1464.7,1845.1 L1451.5,1845.1 Z" fill="#8c6d31" stroke="#fff" stroke-width="1.2" />
<circle cx="1556.4" cy="1551.8" r="6.0" fill="#8c6d31" stroke="#fff" stroke-width="1.2" />
<circle cx="1561.8" cy="1675.5" r="6.0" fill="#9c9ede" stroke="#fff" stroke-width="1.2" />
<circle cx="1555.9" cy="1683.0" r="6.0" fill="#6b6ecf" stroke="#fff" stroke-width="1.2" />
<path d="M1559.1,1680.8 L1565.7,1692.2 L1552.5,1692.2 Z" fill="#ad494a" stroke="#fff" stroke-width="1.2" />
<circle cx="1542.4" cy="1709.0" r="6.0" fill="#e7969c" stroke="#fff" stroke-width="1.2" />
<path d="M1546.1,1715.9 L1552.7,1727.3 L1539.5,1727.3 Z" fill="#e7cb94" stroke="#fff" stroke-width="1.2" />
<circle cx="1563.4" cy="1718.1" r="6.0" fill="#7b4173" stroke="#fff" stroke-width="1.2" />
<path d="M1531.0,1732.7 L1537.6,1744.1 L1524.4,1744.1 Z" fill="#637939" stroke="#fff" stroke-width="1.2" />
<circle cx="1564.5" cy="1757.0" r="6.0" fill="#cedb9c" stroke="#fff" stroke-width="1.2" />
<path d="M1572.1,1762.4 L1578.7,1773.8 L1565.4,1773.8 Z" fill="#ad494a" stroke="#fff" stroke-width="1.2" />
<path d="M1548.8,1768.9 L1555.4,1780.3 L1542.2,1780.3 Z" fill="#b5cf6b" stroke="#fff" stroke-width="1.2" />
<path d="M1547.8,1772.1 L1554.4,1783.5 L1541.1,1783.5 Z" fill="#393b79" stroke="#fff" stroke-width="1.2" />
<path d="M1576.4,1778.6 L1583.0,1790.0 L1569.8,1790.0 Z" fill="#ce6dbd" stroke="#fff" stroke-width="1.2" />
<circle cx="1539.7" cy="1817.0" r="6.0" fill="#a55194" stroke="#fff" stroke-width="1.2" />
<path d="M1541.3,1818.5 L1547.9,1829.9 L1534.7,1829.9 Z" fill="#e7ba52" stroke="#fff" stroke-width="1.2" />
<path d="M1556.4,1815.3 L1563.0,1826.7 L1549.8,1826.7 Z" fill="#bd9e39" stroke="#fff" stroke-width="1.2" />
<path d="M1539.7,1838.0 L1546.3,1849.4 L1533.0,1849.4 Z" fill="#637939" stroke="#fff" stroke-width="1.2" />
<path d="M1568.3,1865.0 L1574.9,1876.4 L1561.7,1876.4 Z" fill="#5254a3" stroke="#fff" stroke-width="1.2" />
<circle cx="1605.5" cy="1659.8" r="6.0" fill="#843c39" stroke="#fff" stroke-width="1.2" />
<circle cx="1622.3" cy="1748.9" r="6.0" fill="#6b6ecf" stroke="#fff" stroke-width="1.2" />
<circle cx="1635.8" cy="1742.4" r="6.0" fill="#e7969c" stroke="#fff" stroke-width="1.2" />
<circle cx="1642.3" cy="1745.7" r="6.0" fill="#8ca252" stroke="#fff" stroke-width="1.2" />
<circle cx="1613.6" cy="1758.6" r="6.0" fill="#7b4173" stroke="#fff" stroke-width="1.2" />
<circle cx="1603.4" cy="1766.2" r="6.0" fill="#cedb9c" stroke="#fff" stroke-width="1.2" />
<path d="M1614.7,1762.9 L1621.3,1774.3 L1608.1,1774.3 Z" fill="#b5cf6b" stroke="#fff" stroke-width="1.2" />
<circle cx="1632.0" cy="1775.9" r="6.0" fill="#e7ba52" stroke="#fff" stroke-width="1.2" />
<path d="M1607.7,1789.9 L1614.3,1801.3 L1601.1,1801.3 Z" fill="#ce6dbd" stroke="#fff" stroke-width="1.2" />
<path d="M1648.7,1787.2 L1655.4,1798.6 L1642.1,1798.6 Z" fill="#393b79" stroke="#fff" stroke-width="1.2" />
<circle cx="1632.5" cy="1818.6" r="6.0" fill="#a55194" stroke="#fff" stroke-width="1.2" />
<circle cx="1645.0" cy="1814.8" r="6.0" fill="#e7cb94" stroke="#fff" stroke-width="1.2" />
<path d="M1649.8,1812.6 L1656.4,1824.0 L1643.2,1824.0 Z" fill="#ad494a" stroke="#fff" stroke-width="1.2" />
<path d="M1610.9,1817.5 L1617.6,1828.9 L1604.3,1828.9 Z" fill="#8c6d31" stroke="#fff" stroke-width="1.2" />
<path d="M1649.3,1827.2 L1655.9,1838.6 L1642.7,1838.6 Z" fill="#5254a3" stroke="#fff" stroke-width="1.2" />
<path d="M1632.5,1805.6 L1639.2,1817.0 L1625.9,1817.0 Z" fill="#637939" stroke="#fff" stroke-width="1.2" />
<circle cx="1735.2" cy="1697.1" r="6.0" fill="#8c6d31" stroke="#fff" stroke-width="1.2" />
<circle cx="1736.8" cy="1719.8" r="6.0" fill="#6b6ecf" stroke="#fff" stroke-width="1.2" />
<circle cx="1751.4" cy="1732.7" r="6.0" fill="#e7cb94" stroke="#fff" stroke-width="1.2" />
<path d="M1749.2,1738.1 L1755.8,1749.5 L1742.6,1749.5 Z" fill="#843c39" stroke="#fff" stroke-width="1.2" />
<circle cx="1714.6" cy="1758.6" r="6.0" fill="#e7969c" stroke="#fff" stroke-width="1.2" />
<circle cx="1713.6" cy="1763.0" r="6.0" fill="#7b4173" stroke="#fff" stroke-width="1.2" />
<path d="M1723.8,1771.6 L1730.4,1783.0 L1717.2,1783.0 Z" fill="#ad494a" stroke="#fff" stroke-width="1.2" />
<path d="M1714.1,1784.0 L1720.7,1795.4 L1707.5,1795.4 Z" fill="#cedb9c" stroke="#fff" stroke-width="1.2" />
<path d="M1733.0,1792.1 L1739.6,1803.5 L1726.4,1803.5 Z" fill="#393b79" stroke="#fff" stroke-width="1.2" />
<path d="M1716.3,1793.7 L1722.9,1805.1 L1709.6,1805.1 Z" fill="#ce6dbd" stroke="#fff" stroke-width="1.2" />
<path d="M1710.9,1805.6 L1717.5,1817.0 L1704.2,1817.0 Z" fill="#9c9ede" stroke="#fff" stroke-width="1.2" />
<circle cx="1744.9" cy="1816.4" r="6.0" fill="#a55194" stroke="#fff" stroke-width="1.2" />
<path d="M1740.6,1815.3 L1747.2,1826.7 L1733.9,1826.7 Z" fill="#bd9e39" stroke="#fff" stroke-width="1.2" />
<path d="M1716.8,1847.2 L1723.4,1858.6 L1710.2,1858.6 Z" fill="#637939" stroke="#fff" stroke-width="1.2" />
<path d="M1729.8,1854.2 L1736.4,1865.6 L1723.1,1865.6 Z" fill="#b5cf6b" stroke="#fff" stroke-width="1.2" />
<path d="M1746.5,1873.1 L1753.1,1884.5 L1739.9,1884.5 Z" fill="#5254a3" stroke="#fff" stroke-width="1.2" />
<path d="M1727.6,1941.7 L1734.2,1953.1 L1721.0,1953.1 Z" fill="#e7ba52" stroke="#fff" stroke-width="1.2" />
<path d="M1782.1,1692.7 L1788.8,1704.1 L1775.5,1704.1 Z" fill="#ad494a" stroke="#fff" stroke-width="1.2" />
<circle cx="1777.3" cy="1708.4" r="6.0" fill="#6b6ecf" stroke="#fff" stroke-width="1.2" />
<circle cx="1817.8" cy="1740.8" r="6.0" fill="#393b79" stroke="#fff" stroke-width="1.2" />
<path d="M1828.1,1733.8 L1834.7,1745.2 L1821.4,1745.2 Z" fill="#8ca252" stroke="#fff" stroke-width="1.2" />
<circle cx="1796.7" cy="1764.0" r="6.0" fill="#e7969c" stroke="#fff" stroke-width="1.2" />
<circle cx="1795.6" cy="1769.4" r="6.0" fill="#7b4173" stroke="#fff" stroke-width="1.2" />
<circle cx="1791.3" cy="1778.6" r="6.0" fill="#cedb9c" stroke="#fff" stroke-width="1.2" />
<path d="M1807.5,1800.2 L1814.1,1811.6 L1800.9,1811.6 Z" fill="#8c6d31" stroke="#fff" stroke-width="1.2" />
<circle cx="1798.9" cy="1814.3" r="6.0" fill="#e7cb94" stroke="#fff" stroke-width="1.2" />
<circle cx="1777.3" cy="1817.5" r="6.0" fill="#a55194" stroke="#fff" stroke-width="1.2" />
<path d="M1823.2,1814.2 L1829.8,1825.6 L1816.6,1825.6 Z" fill="#bd9e39" stroke="#fff" stroke-width="1.2" />
<path d="M1777.3,1821.8 L1783.9,1833.2 L1770.7,1833.2 Z" fill="#ad494a" stroke="#fff" stroke-width="1.2" />
<path d="M1800.0,1819.6 L1806.6,1831.0 L1793.4,1831.0 Z" fill="#637939" stroke="#fff" stroke-width="1.2" />
<path d="M1812.4,1821.8 L1819.0,1833.2 L1805.8,1833.2 Z" fill="#ce6dbd" stroke="#fff" stroke-width="1.2" />
<line x1="1338.5" y1="1707.9" x2="1410.5" y2="1707.9" stroke="#000" stroke-width="2.6" />
<line x1="1374.5" y1="1502.9" x2="1374.5" y2="1633.5" stroke="#000" stroke-width="2.6" />
<line x1="1374.5" y1="1779.0" x2="1374.5" y2="1818.4" stroke="#000" stroke-width="2.6" />
<line x1="1356.0" y1="1502.9" x2="1393.0" y2="1502.9" stroke="#000" stroke-width="2.6" />
<line x1="1356.0" y1="1818.4" x2="1393.0" y2="1818.4" stroke="#000" stroke-width="2.6" />
<line x1="1410.5" y1="1769.5" x2="1482.5" y2="1769.5" stroke="#000" stroke-width="2.6" />
<line x1="1446.5" y1="1607.6" x2="1446.5" y2="1721.9" stroke="#000" stroke-width="2.6" />
<line x1="1446.5" y1="1815.7" x2="1446.5" y2="1840.2" stroke="#000" stroke-width="2.6" />
<line x1="1428.0" y1="1607.6" x2="1465.0" y2="1607.6" stroke="#000" stroke-width="2.6" />
<line x1="1428.0" y1="1840.2" x2="1465.0" y2="1840.2" stroke="#000" stroke-width="2.6" />
<line x1="1516.8" y1="1768.1" x2="1588.8" y2="1768.1" stroke="#000" stroke-width="2.6" />
<line x1="1552.8" y1="1675.6" x2="1552.8" y2="1714.0" stroke="#000" stroke-width="2.6" />
<line x1="1552.8" y1="1818.4" x2="1552.8" y2="1871.5" stroke="#000" stroke-width="2.6" />
<line x1="1534.2" y1="1675.6" x2="1571.2" y2="1675.6" stroke="#000" stroke-width="2.6" />
<line x1="1534.2" y1="1871.5" x2="1571.2" y2="1871.5" stroke="#000" stroke-width="2.6" />
<line x1="1588.8" y1="1792.6" x2="1660.8" y2="1792.6" stroke="#000" stroke-width="2.6" />
<line x1="1624.8" y1="1659.3" x2="1624.8" y2="1753.1" stroke="#000" stroke-width="2.6" />
<line x1="1624.8" y1="1818.4" x2="1624.8" y2="1833.4" stroke="#000" stroke-width="2.6" />
<line x1="1606.2" y1="1659.3" x2="1643.2" y2="1659.3" stroke="#000" stroke-width="2.6" />
<line x1="1606.2" y1="1833.4" x2="1643.2" y2="1833.4" stroke="#000" stroke-width="2.6" />
<line x1="1695.0" y1="1800.7" x2="1767.0" y2="1800.7" stroke="#000" stroke-width="2.6" />
<line x1="1731.0" y1="1697.4" x2="1731.0" y2="1761.3" stroke="#000" stroke-width="2.6" />
<line x1="1731.0" y1="1837.5" x2="1731.0" y2="1947.6" stroke="#000" stroke-width="2.6" />
<line x1="1712.5" y1="1697.4" x2="1749.5" y2="1697.4" stroke="#000" stroke-width="2.6" />
<line x1="1712.5" y1="1947.6" x2="1749.5" y2="1947.6" stroke="#000" stroke-width="2.6" />
<line x1="1767.0" y1="1810.3" x2="1839.0" y2="1810.3" stroke="#000" stroke-width="2.6" />
<line x1="1803.0" y1="1698.7" x2="1803.0" y2="1766.7" stroke="#000" stroke-width="2.6" />
<line x1="1803.0" y1="1821.1" x2="1803.0" y2="1827.9" stroke="#000" stroke-width="2.6" />
<line x1="1784.5" y1="1698.7" x2="1821.5" y2="1698.7" stroke="#000" stroke-width="2.6" />
<line x1="1784.5" y1="1827.9" x2="1821.5" y2="1827.9" stroke="#000" stroke-width="2.6" />
<text x="1410.0" y="1988.0" font-size="21" fill="#262626" text-anchor="middle" textLength="46.0" lengthAdjust="spacingAndGlyphs">MLP</text>
<text x="1588.6" y="1988.0" font-size="21" fill="#262626" text-anchor="middle" textLength="62.0" lengthAdjust="spacingAndGlyphs">SAINT</text>
<text x="1767.0" y="1988.0" font-size="21" fill="#262626" text-anchor="middle" textLength="85.0" lengthAdjust="spacingAndGlyphs">XGBoost</text>
<text transform="translate(1201,1722) rotate(-90)" text-anchor="middle" font-size="20" fill="#262626" textLength="272" lengthAdjust="spacingAndGlyphs">Regression coefficient linking</text>
<text transform="translate(1228,1722) rotate(-90)" text-anchor="middle" font-size="20" fill="#262626" textLength="282" lengthAdjust="spacingAndGlyphs">prediction <tspan font-style="italic">R</tspan><tspan font-size="14" dy="-8">2</tspan><tspan dy="8"> to imputation </tspan><tspan font-style="italic">R</tspan><tspan font-size="14" dy="-8">2</tspan></text>
<text x="1495.5" y="1469.0" font-size="21" fill="#262626" textLength="185.0" lengthAdjust="spacingAndGlyphs">missing_rate = 50%</text>
<text x="1895.0" y="1548.0" font-size="21" fill="#262626" textLength="202.0" lengthAdjust="spacingAndGlyphs">Missingness indicator</text>
<rect x="1877.5" y="1564.0" width="43.0" height="15.0" fill="#bfbfbf" stroke="#cfcfcf" stroke-width="2"/>
<text x="1938.0" y="1578.0" font-size="21" fill="#262626" textLength="53.0" lengthAdjust="spacingAndGlyphs">False</text>
<rect x="1877.5" y="1594.0" width="43.0" height="15.0" fill="#f2f2f2" stroke="#d9d9d9" stroke-width="2"/>
<text x="1938.0" y="1608.6" font-size="21" fill="#262626" textLength="44.0" lengthAdjust="spacingAndGlyphs">True</text>
<text x="1895.0" y="1639.0" font-size="21" fill="#262626" textLength="195.0" lengthAdjust="spacingAndGlyphs">Coef significantly &gt; 0</text>
<circle cx="1899.0" cy="1661.5" r="6.5" fill="#333" />
<text x="1938.0" y="1668.5" font-size="21" fill="#262626" textLength="34.0" lengthAdjust="spacingAndGlyphs">yes</text>
<path d="M1899,1683 L1906,1695 L1892,1695 Z" fill="#333" />
<text x="1938.0" y="1699.0" font-size="21" fill="#262626" textLength="25.0" lengthAdjust="spacingAndGlyphs">no</text>
<text x="1895.0" y="1729.0" font-size="21" fill="#262626" textLength="84.0" lengthAdjust="spacingAndGlyphs">Datasets</text>
<circle cx="1899.0" cy="1752.0" r="6.5" fill="#e7cb94" />
<text x="1938.0" y="1759.0" font-size="21" fill="#262626">medical_charges</text>
<circle cx="1899.0" cy="1782.1" r="6.5" fill="#bd9e39" />
<text x="1938.0" y="1789.1" font-size="21" fill="#262626">diamonds</text>
<circle cx="1899.0" cy="1812.2" r="6.5" fill="#b5cf6b" />
<text x="1938.0" y="1819.2" font-size="21" fill="#262626">sulfur</text>
<circle cx="1899.0" cy="1842.3" r="6.5" fill="#8c6d31" />
<text x="1938.0" y="1849.3" font-size="21" fill="#262626">Bike_Sharing</text>
<circle cx="1899.0" cy="1872.4" r="6.5" fill="#7b4173" />
<text x="1938.0" y="1879.4" font-size="21" fill="#262626">abalone</text>
<circle cx="1899.0" cy="1902.5" r="6.5" fill="#637939" />
<text x="1938.0" y="1909.5" font-size="21" fill="#262626">Brazilian_houses</text>
<circle cx="2162.5" cy="1541.0" r="6.5" fill="#a55194" />
<text x="2200.0" y="1548.0" font-size="21" fill="#262626">delays_zurich</text>
<circle cx="2162.5" cy="1571.1" r="6.5" fill="#e7ba52" />
<text x="2200.0" y="1578.1" font-size="21" fill="#262626">houses</text>
<circle cx="2162.5" cy="1601.2" r="6.5" fill="#ad494a" />
<text x="2200.0" y="1608.2" font-size="21" fill="#262626">nyc-taxi</text>
<circle cx="2162.5" cy="1631.3" r="6.5" fill="#9c9ede" />
<text x="2200.0" y="1638.3" font-size="21" fill="#262626">wine_quality</text>
<circle cx="2162.5" cy="1661.4" r="6.5" fill="#843c39" />
<text x="2200.0" y="1668.4" font-size="21" fill="#262626">MiamiHousing</text>
<circle cx="2162.5" cy="1691.5" r="6.5" fill="#8ca252" />
<text x="2200.0" y="1698.5" font-size="21" fill="#262626">house_sales</text>
<circle cx="2162.5" cy="1721.6" r="6.5" fill="#393b79" />
<text x="2200.0" y="1728.6" font-size="21" fill="#262626">house_16H</text>
<circle cx="2162.5" cy="1751.7" r="6.5" fill="#6b6ecf" />
<text x="2200.0" y="1758.7" font-size="21" fill="#262626">elevators</text>
<circle cx="2162.5" cy="1781.8" r="6.5" fill="#5254a3" />
<text x="2200.0" y="1788.8" font-size="21" fill="#262626">cpu_act</text>
<circle cx="2162.5" cy="1811.9" r="6.5" fill="#d6616b" />
<text x="2200.0" y="1818.9" font-size="21" fill="#262626">pol</text>
<circle cx="2162.5" cy="1842.0" r="6.5" fill="#cedb9c" />
<text x="2200.0" y="1849.0" font-size="21" fill="#262626">Ailerons</text>
<circle cx="2162.5" cy="1872.1" r="6.5" fill="#ce6dbd" />
<text x="2200.0" y="1879.1" font-size="21" fill="#262626">yprop_4_1</text>
<circle cx="2162.5" cy="1902.2" r="6.5" fill="#e7969c" />
<text x="2200.0" y="1909.2" font-size="21" fill="#262626">superconduct</text>
<line x1="2642.5" y1="459.4" x2="3074.7" y2="459.4" stroke="#d0d0d0" stroke-width="1.6" />
<line x1="2642.5" y1="506.0" x2="3074.7" y2="506.0" stroke="#d0d0d0" stroke-width="1.6" />
<line x1="2642.5" y1="552.7" x2="3074.7" y2="552.7" stroke="#d0d0d0" stroke-width="1.6" />
<line x1="2642.5" y1="599.3" x2="3074.7" y2="599.3" stroke="#d0d0d0" stroke-width="1.6" />
<line x1="2642.5" y1="646.0" x2="3074.7" y2="646.0" stroke="#d0d0d0" stroke-width="1.6" />
<line x1="2642.5" y1="739.2" x2="3074.7" y2="739.2" stroke="#d0d0d0" stroke-width="1.6" />
<line x1="2642.5" y1="785.9" x2="3074.7" y2="785.9" stroke="#d0d0d0" stroke-width="1.6" />
<rect x="2642.5" y="690.1" width="432.2" height="5.0" fill="#c8c8c8"/>
<line x1="2642.5" y1="444.0" x2="2642.5" y2="809.6" stroke="#cccccc" stroke-width="2" />
<line x1="2642.5" y1="809.6" x2="3074.7" y2="809.6" stroke="#cccccc" stroke-width="2" />
<text x="2629.6" y="466.9" font-size="21" fill="#262626" text-anchor="end">1.0</text>
<text x="2629.6" y="513.5" font-size="21" fill="#262626" text-anchor="end">0.8</text>
<text x="2629.6" y="560.2" font-size="21" fill="#262626" text-anchor="end">0.6</text>
<text x="2629.6" y="606.8" font-size="21" fill="#262626" text-anchor="end">0.4</text>
<text x="2629.6" y="653.5" font-size="21" fill="#262626" text-anchor="end">0.2</text>
<text x="2629.6" y="700.1" font-size="21" fill="#262626" text-anchor="end">0.0</text>
<text x="2629.6" y="746.7" font-size="21" fill="#262626" text-anchor="end">−0.2</text>
<text x="2629.6" y="793.4" font-size="21" fill="#262626" text-anchor="end">−0.4</text>
<rect x="2662.4" y="521.7" width="55.9" height="78.8" fill="#bfbfbf" stroke="#cfcfcf" stroke-width="3"/>
<rect x="2718.3" y="488.8" width="56.3" height="68.6" fill="#f2f2f2" stroke="#d9d9d9" stroke-width="3"/>
<rect x="2802.5" y="536.4" width="56.3" height="108.4" fill="#bfbfbf" stroke="#cfcfcf" stroke-width="3"/>
<rect x="2858.8" y="506.0" width="56.3" height="64.4" fill="#f2f2f2" stroke="#d9d9d9" stroke-width="3"/>
<rect x="2943.0" y="535.4" width="56.4" height="162.5" fill="#bfbfbf" stroke="#cfcfcf" stroke-width="3"/>
<rect x="2999.4" y="494.8" width="55.8" height="90.0" fill="#f2f2f2" stroke="#d9d9d9" stroke-width="3"/>
<circle cx="2694.2" cy="466.9" r="6.2" fill="#e7969c" stroke="#fff" stroke-width="1.2" />
<circle cx="2691.8" cy="472.8" r="6.2" fill="#e7969c" stroke="#fff" stroke-width="1.2" />
<circle cx="2687.6" cy="483.3" r="6.2" fill="#7b4173" stroke="#fff" stroke-width="1.2" />
<circle cx="2700.0" cy="485.7" r="6.2" fill="#ad494a" stroke="#fff" stroke-width="1.2" />
<circle cx="2705.9" cy="492.7" r="6.2" fill="#843c39" stroke="#fff" stroke-width="1.2" />
<circle cx="2700.0" cy="492.7" r="6.2" fill="#6b6ecf" stroke="#fff" stroke-width="1.2" />
<circle cx="2682.5" cy="500.9" r="6.2" fill="#cedb9c" stroke="#fff" stroke-width="1.2" />
<circle cx="2697.7" cy="503.7" r="6.2" fill="#cedb9c" stroke="#fff" stroke-width="1.2" />
<circle cx="2670.8" cy="520.8" r="6.2" fill="#6b6ecf" stroke="#fff" stroke-width="1.2" />
<circle cx="2671.9" cy="527.1" r="6.2" fill="#7b4173" stroke="#fff" stroke-width="1.2" />
<circle cx="2677.8" cy="521.9" r="6.2" fill="#a55194" stroke="#fff" stroke-width="1.2" />
<circle cx="2682.5" cy="534.1" r="6.2" fill="#e7ba52" stroke="#fff" stroke-width="1.2" />
<circle cx="2673.6" cy="541.1" r="6.2" fill="#8ca252" stroke="#fff" stroke-width="1.2" />
<circle cx="2703.5" cy="530.1" r="6.2" fill="#8ca252" stroke="#fff" stroke-width="1.2" />
<circle cx="2710.6" cy="531.8" r="6.2" fill="#a55194" stroke="#fff" stroke-width="1.2" />
<circle cx="2709.4" cy="543.5" r="6.2" fill="#8c6d31" stroke="#fff" stroke-width="1.2" />
<circle cx="2687.6" cy="551.0" r="6.2" fill="#e7cb94" stroke="#fff" stroke-width="1.2" />
<circle cx="2707.0" cy="554.7" r="6.2" fill="#393b79" stroke="#fff" stroke-width="1.2" />
<circle cx="2687.6" cy="567.6" r="6.2" fill="#393b79" stroke="#fff" stroke-width="1.2" />
<circle cx="2705.9" cy="571.1" r="6.2" fill="#ad494a" stroke="#fff" stroke-width="1.2" />
<circle cx="2702.4" cy="574.6" r="6.2" fill="#bd9e39" stroke="#fff" stroke-width="1.2" />
<circle cx="2702.4" cy="583.3" r="6.2" fill="#a55194" stroke="#fff" stroke-width="1.2" />
<circle cx="2701.2" cy="586.3" r="6.2" fill="#5254a3" stroke="#fff" stroke-width="1.2" />
<circle cx="2681.3" cy="589.8" r="6.2" fill="#ce6dbd" stroke="#fff" stroke-width="1.2" />
<circle cx="2682.0" cy="599.2" r="6.2" fill="#b5cf6b" stroke="#fff" stroke-width="1.2" />
<circle cx="2698.9" cy="601.1" r="6.2" fill="#9c9ede" stroke="#fff" stroke-width="1.2" />
<circle cx="2670.3" cy="606.2" r="6.2" fill="#e7ba52" stroke="#fff" stroke-width="1.2" />
<circle cx="2686.0" cy="629.2" r="6.2" fill="#bd9e39" stroke="#fff" stroke-width="1.2" />
<circle cx="2676.6" cy="651.9" r="6.2" fill="#637939" stroke="#fff" stroke-width="1.2" />
<circle cx="2678.9" cy="658.2" r="6.2" fill="#637939" stroke="#fff" stroke-width="1.2" />
<circle cx="2675.0" cy="657.3" r="6.2" fill="#b5cf6b" stroke="#fff" stroke-width="1.2" />
<circle cx="2696.5" cy="704.1" r="6.2" fill="#e7cb94" stroke="#fff" stroke-width="1.2" />
<circle cx="2700.5" cy="724.5" r="6.2" fill="#8c6d31" stroke="#fff" stroke-width="1.2" />
<circle cx="2702.8" cy="752.6" r="6.2" fill="#d6616b" stroke="#fff" stroke-width="1.2" />
<circle cx="2735.8" cy="462.2" r="6.2" fill="#e7969c" stroke="#fff" stroke-width="1.2" />
<circle cx="2737.5" cy="470.4" r="6.2" fill="#ce6dbd" stroke="#fff" stroke-width="1.2" />
<circle cx="2766.8" cy="465.3" r="6.2" fill="#ce6dbd" stroke="#fff" stroke-width="1.2" />
<circle cx="2762.1" cy="472.3" r="6.2" fill="#cedb9c" stroke="#fff" stroke-width="1.2" />
<circle cx="2756.2" cy="477.5" r="6.2" fill="#cedb9c" stroke="#fff" stroke-width="1.2" />
<circle cx="2733.5" cy="477.9" r="6.2" fill="#5254a3" stroke="#fff" stroke-width="1.2" />
<circle cx="2728.1" cy="488.0" r="6.2" fill="#ad494a" stroke="#fff" stroke-width="1.2" />
<circle cx="2750.4" cy="483.3" r="6.2" fill="#843c39" stroke="#fff" stroke-width="1.2" />
<circle cx="2743.3" cy="489.2" r="6.2" fill="#7b4173" stroke="#fff" stroke-width="1.2" />
<circle cx="2744.5" cy="496.2" r="6.2" fill="#843c39" stroke="#fff" stroke-width="1.2" />
<circle cx="2735.1" cy="499.7" r="6.2" fill="#5254a3" stroke="#fff" stroke-width="1.2" />
<circle cx="2728.1" cy="497.4" r="6.2" fill="#7b4173" stroke="#fff" stroke-width="1.2" />
<circle cx="2748.0" cy="504.4" r="6.2" fill="#5254a3" stroke="#fff" stroke-width="1.2" />
<circle cx="2755.0" cy="505.1" r="6.2" fill="#a55194" stroke="#fff" stroke-width="1.2" />
<circle cx="2758.6" cy="510.2" r="6.2" fill="#8c6d31" stroke="#fff" stroke-width="1.2" />
<circle cx="2725.8" cy="514.5" r="6.2" fill="#637939" stroke="#fff" stroke-width="1.2" />
<circle cx="2737.5" cy="517.3" r="6.2" fill="#6b6ecf" stroke="#fff" stroke-width="1.2" />
<circle cx="2746.8" cy="520.8" r="6.2" fill="#8ca252" stroke="#fff" stroke-width="1.2" />
<circle cx="2762.1" cy="519.6" r="6.2" fill="#9c9ede" stroke="#fff" stroke-width="1.2" />
<circle cx="2766.8" cy="518.4" r="6.2" fill="#6b6ecf" stroke="#fff" stroke-width="1.2" />
<circle cx="2766.8" cy="529.0" r="6.2" fill="#7b4173" stroke="#fff" stroke-width="1.2" />
<circle cx="2742.2" cy="530.1" r="6.2" fill="#e7cb94" stroke="#fff" stroke-width="1.2" />
<circle cx="2765.6" cy="539.5" r="6.2" fill="#d6616b" stroke="#fff" stroke-width="1.2" />
<circle cx="2743.3" cy="548.9" r="6.2" fill="#ad494a" stroke="#fff" stroke-width="1.2" />
<circle cx="2753.9" cy="554.7" r="6.2" fill="#e7ba52" stroke="#fff" stroke-width="1.2" />
<circle cx="2729.8" cy="558.9" r="6.2" fill="#d6616b" stroke="#fff" stroke-width="1.2" />
<circle cx="2766.8" cy="569.9" r="6.2" fill="#9c9ede" stroke="#fff" stroke-width="1.2" />
<circle cx="2748.0" cy="587.0" r="6.2" fill="#e7ba52" stroke="#fff" stroke-width="1.2" />
<circle cx="2744.5" cy="592.2" r="6.2" fill="#bd9e39" stroke="#fff" stroke-width="1.2" />
<circle cx="2751.5" cy="614.4" r="6.2" fill="#637939" stroke="#fff" stroke-width="1.2" />
<circle cx="2732.8" cy="632.5" r="6.2" fill="#8c6d31" stroke="#fff" stroke-width="1.2" />
<circle cx="2727.4" cy="640.4" r="6.2" fill="#bd9e39" stroke="#fff" stroke-width="1.2" />
<circle cx="2727.4" cy="676.5" r="6.2" fill="#b5cf6b" stroke="#fff" stroke-width="1.2" />
<circle cx="2756.2" cy="704.1" r="6.2" fill="#e7cb94" stroke="#fff" stroke-width="1.2" />
<circle cx="2822.5" cy="475.1" r="6.2" fill="#e7969c" stroke="#fff" stroke-width="1.2" />
<circle cx="2840.7" cy="478.6" r="6.2" fill="#e7969c" stroke="#fff" stroke-width="1.2" />
<circle cx="2839.3" cy="493.4" r="6.2" fill="#7b4173" stroke="#fff" stroke-width="1.2" />
<circle cx="2816.6" cy="516.8" r="6.2" fill="#843c39" stroke="#fff" stroke-width="1.2" />
<circle cx="2833.0" cy="510.2" r="6.2" fill="#6b6ecf" stroke="#fff" stroke-width="1.2" />
<circle cx="2838.4" cy="516.1" r="6.2" fill="#9c9ede" stroke="#fff" stroke-width="1.2" />
<circle cx="2829.0" cy="524.8" r="6.2" fill="#6b6ecf" stroke="#fff" stroke-width="1.2" />
<circle cx="2815.4" cy="530.8" r="6.2" fill="#cedb9c" stroke="#fff" stroke-width="1.2" />
<circle cx="2840.0" cy="529.4" r="6.2" fill="#cedb9c" stroke="#fff" stroke-width="1.2" />
<circle cx="2824.8" cy="539.5" r="6.2" fill="#a55194" stroke="#fff" stroke-width="1.2" />
<circle cx="2821.3" cy="538.3" r="6.2" fill="#a55194" stroke="#fff" stroke-width="1.2" />
<circle cx="2837.7" cy="536.0" r="6.2" fill="#e7ba52" stroke="#fff" stroke-width="1.2" />
<circle cx="2845.9" cy="546.5" r="6.2" fill="#8ca252" stroke="#fff" stroke-width="1.2" />
<circle cx="2837.7" cy="548.2" r="6.2" fill="#a55194" stroke="#fff" stroke-width="1.2" />
<circle cx="2834.2" cy="557.5" r="6.2" fill="#8c6d31" stroke="#fff" stroke-width="1.2" />
<circle cx="2847.0" cy="557.1" r="6.2" fill="#e7cb94" stroke="#fff" stroke-width="1.2" />
<circle cx="2847.0" cy="569.9" r="6.2" fill="#bd9e39" stroke="#fff" stroke-width="1.2" />
<circle cx="2825.3" cy="575.3" r="6.2" fill="#e7cb94" stroke="#fff" stroke-width="1.2" />
<circle cx="2845.9" cy="578.6" r="6.2" fill="#ad494a" stroke="#fff" stroke-width="1.2" />
<circle cx="2835.3" cy="583.3" r="6.2" fill="#843c39" stroke="#fff" stroke-width="1.2" />
<circle cx="2822.5" cy="586.3" r="6.2" fill="#b5cf6b" stroke="#fff" stroke-width="1.2" />
<circle cx="2850.1" cy="586.3" r="6.2" fill="#ce6dbd" stroke="#fff" stroke-width="1.2" />
<circle cx="2837.7" cy="602.0" r="6.2" fill="#9c9ede" stroke="#fff" stroke-width="1.2" />
<circle cx="2850.6" cy="601.6" r="6.2" fill="#ad494a" stroke="#fff" stroke-width="1.2" />
<circle cx="2817.3" cy="617.2" r="6.2" fill="#ce6dbd" stroke="#fff" stroke-width="1.2" />
<circle cx="2826.0" cy="628.5" r="6.2" fill="#393b79" stroke="#fff" stroke-width="1.2" />
<circle cx="2850.6" cy="630.8" r="6.2" fill="#393b79" stroke="#fff" stroke-width="1.2" />
<circle cx="2813.6" cy="634.3" r="6.2" fill="#8ca252" stroke="#fff" stroke-width="1.2" />
<circle cx="2827.1" cy="647.2" r="6.2" fill="#b5cf6b" stroke="#fff" stroke-width="1.2" />
<circle cx="2837.7" cy="651.9" r="6.2" fill="#637939" stroke="#fff" stroke-width="1.2" />
<circle cx="2834.2" cy="662.9" r="6.2" fill="#bd9e39" stroke="#fff" stroke-width="1.2" />
<circle cx="2820.1" cy="694.0" r="6.2" fill="#8c6d31" stroke="#fff" stroke-width="1.2" />
<circle cx="2822.0" cy="698.3" r="6.2" fill="#e7ba52" stroke="#fff" stroke-width="1.2" />
<circle cx="2851.0" cy="704.1" r="6.2" fill="#5254a3" stroke="#fff" stroke-width="1.2" />
<circle cx="2843.5" cy="729.2" r="6.2" fill="#5254a3" stroke="#fff" stroke-width="1.2" />
<circle cx="2820.6" cy="737.8" r="6.2" fill="#637939" stroke="#fff" stroke-width="1.2" />
<circle cx="2824.3" cy="794.7" r="6.2" fill="#d6616b" stroke="#fff" stroke-width="1.2" />
<circle cx="2865.8" cy="462.2" r="6.2" fill="#e7969c" stroke="#fff" stroke-width="1.2" />
<circle cx="2876.3" cy="468.1" r="6.2" fill="#ce6dbd" stroke="#fff" stroke-width="1.2" />
<circle cx="2870.5" cy="462.2" r="6.2" fill="#ce6dbd" stroke="#fff" stroke-width="1.2" />
<circle cx="2871.6" cy="476.3" r="6.2" fill="#e7969c" stroke="#fff" stroke-width="1.2" />
<circle cx="2871.6" cy="484.0" r="6.2" fill="#cedb9c" stroke="#fff" stroke-width="1.2" />
<circle cx="2899.3" cy="483.3" r="6.2" fill="#bd9e39" stroke="#fff" stroke-width="1.2" />
<circle cx="2900.9" cy="488.0" r="6.2" fill="#a55194" stroke="#fff" stroke-width="1.2" />
<circle cx="2880.5" cy="492.7" r="6.2" fill="#a55194" stroke="#fff" stroke-width="1.2" />
<circle cx="2878.2" cy="505.1" r="6.2" fill="#7b4173" stroke="#fff" stroke-width="1.2" />
<circle cx="2886.8" cy="507.9" r="6.2" fill="#5254a3" stroke="#fff" stroke-width="1.2" />
<circle cx="2902.1" cy="510.2" r="6.2" fill="#8ca252" stroke="#fff" stroke-width="1.2" />
<circle cx="2902.1" cy="506.7" r="6.2" fill="#843c39" stroke="#fff" stroke-width="1.2" />
<circle cx="2869.3" cy="512.1" r="6.2" fill="#6b6ecf" stroke="#fff" stroke-width="1.2" />
<circle cx="2877.5" cy="517.3" r="6.2" fill="#cedb9c" stroke="#fff" stroke-width="1.2" />
<circle cx="2869.8" cy="526.2" r="6.2" fill="#8ca252" stroke="#fff" stroke-width="1.2" />
<circle cx="2871.6" cy="531.3" r="6.2" fill="#637939" stroke="#fff" stroke-width="1.2" />
<circle cx="2875.1" cy="536.0" r="6.2" fill="#6b6ecf" stroke="#fff" stroke-width="1.2" />
<circle cx="2882.2" cy="540.7" r="6.2" fill="#393b79" stroke="#fff" stroke-width="1.2" />
<circle cx="2885.2" cy="529.0" r="6.2" fill="#843c39" stroke="#fff" stroke-width="1.2" />
<circle cx="2885.2" cy="534.1" r="6.2" fill="#d6616b" stroke="#fff" stroke-width="1.2" />
<circle cx="2895.0" cy="532.5" r="6.2" fill="#e7cb94" stroke="#fff" stroke-width="1.2" />
<circle cx="2906.3" cy="537.9" r="6.2" fill="#9c9ede" stroke="#fff" stroke-width="1.2" />
<circle cx="2895.0" cy="561.3" r="6.2" fill="#8c6d31" stroke="#fff" stroke-width="1.2" />
<circle cx="2902.1" cy="559.4" r="6.2" fill="#d6616b" stroke="#fff" stroke-width="1.2" />
<circle cx="2904.4" cy="569.2" r="6.2" fill="#e7cb94" stroke="#fff" stroke-width="1.2" />
<circle cx="2899.3" cy="569.9" r="6.2" fill="#7b4173" stroke="#fff" stroke-width="1.2" />
<circle cx="2871.2" cy="568.8" r="6.2" fill="#e7ba52" stroke="#fff" stroke-width="1.2" />
<circle cx="2879.8" cy="593.4" r="6.2" fill="#9c9ede" stroke="#fff" stroke-width="1.2" />
<circle cx="2879.8" cy="588.7" r="6.2" fill="#637939" stroke="#fff" stroke-width="1.2" />
<circle cx="2869.3" cy="600.4" r="6.2" fill="#bd9e39" stroke="#fff" stroke-width="1.2" />
<circle cx="2901.6" cy="597.3" r="6.2" fill="#ad494a" stroke="#fff" stroke-width="1.2" />
<circle cx="2885.7" cy="635.5" r="6.2" fill="#393b79" stroke="#fff" stroke-width="1.2" />
<circle cx="2866.5" cy="645.6" r="6.2" fill="#b5cf6b" stroke="#fff" stroke-width="1.2" />
<circle cx="2877.5" cy="647.2" r="6.2" fill="#e7ba52" stroke="#fff" stroke-width="1.2" />
<circle cx="2876.8" cy="657.3" r="6.2" fill="#ad494a" stroke="#fff" stroke-width="1.2" />
<circle cx="2868.1" cy="708.1" r="6.2" fill="#8c6d31" stroke="#fff" stroke-width="1.2" />
<circle cx="2950.8" cy="491.0" r="6.2" fill="#6b6ecf" stroke="#fff" stroke-width="1.2" />
<circle cx="2950.8" cy="495.7" r="6.2" fill="#a55194" stroke="#fff" stroke-width="1.2" />
<circle cx="2981.7" cy="503.7" r="6.2" fill="#a55194" stroke="#fff" stroke-width="1.2" />
<circle cx="2958.9" cy="513.1" r="6.2" fill="#e7969c" stroke="#fff" stroke-width="1.2" />
<circle cx="2967.6" cy="514.5" r="6.2" fill="#e7969c" stroke="#fff" stroke-width="1.2" />
<circle cx="2957.3" cy="521.5" r="6.2" fill="#7b4173" stroke="#fff" stroke-width="1.2" />
<circle cx="2969.0" cy="523.1" r="6.2" fill="#e7cb94" stroke="#fff" stroke-width="1.2" />
<circle cx="2976.5" cy="524.8" r="6.2" fill="#6b6ecf" stroke="#fff" stroke-width="1.2" />
<circle cx="2987.7" cy="533.7" r="6.2" fill="#e7cb94" stroke="#fff" stroke-width="1.2" />
<circle cx="2966.0" cy="541.1" r="6.2" fill="#7b4173" stroke="#fff" stroke-width="1.2" />
<circle cx="2974.2" cy="552.9" r="6.2" fill="#8c6d31" stroke="#fff" stroke-width="1.2" />
<circle cx="2983.5" cy="553.6" r="6.2" fill="#393b79" stroke="#fff" stroke-width="1.2" />
<circle cx="2987.0" cy="561.3" r="6.2" fill="#bd9e39" stroke="#fff" stroke-width="1.2" />
<circle cx="2955.4" cy="562.2" r="6.2" fill="#843c39" stroke="#fff" stroke-width="1.2" />
<circle cx="2991.0" cy="573.9" r="6.2" fill="#8ca252" stroke="#fff" stroke-width="1.2" />
<circle cx="2957.3" cy="587.0" r="6.2" fill="#cedb9c" stroke="#fff" stroke-width="1.2" />
<circle cx="2965.3" cy="587.0" r="6.2" fill="#ad494a" stroke="#fff" stroke-width="1.2" />
<circle cx="2958.9" cy="602.7" r="6.2" fill="#9c9ede" stroke="#fff" stroke-width="1.2" />
<circle cx="2958.9" cy="612.8" r="6.2" fill="#ce6dbd" stroke="#fff" stroke-width="1.2" />
<circle cx="2979.3" cy="608.1" r="6.2" fill="#bd9e39" stroke="#fff" stroke-width="1.2" />
<circle cx="2985.4" cy="625.0" r="6.2" fill="#843c39" stroke="#fff" stroke-width="1.2" />
<circle cx="2974.6" cy="639.5" r="6.2" fill="#8c6d31" stroke="#fff" stroke-width="1.2" />
<circle cx="2972.3" cy="651.2" r="6.2" fill="#393b79" stroke="#fff" stroke-width="1.2" />
<circle cx="2969.5" cy="667.1" r="6.2" fill="#5254a3" stroke="#fff" stroke-width="1.2" />
<circle cx="2955.4" cy="673.0" r="6.2" fill="#9c9ede" stroke="#fff" stroke-width="1.2" />
<circle cx="2952.6" cy="688.2" r="6.2" fill="#b5cf6b" stroke="#fff" stroke-width="1.2" />
<circle cx="2979.3" cy="691.7" r="6.2" fill="#b5cf6b" stroke="#fff" stroke-width="1.2" />
<circle cx="2978.9" cy="699.4" r="6.2" fill="#ce6dbd" stroke="#fff" stroke-width="1.2" />
<circle cx="2969.5" cy="706.9" r="6.2" fill="#637939" stroke="#fff" stroke-width="1.2" />
<circle cx="2969.5" cy="718.6" r="6.2" fill="#8ca252" stroke="#fff" stroke-width="1.2" />
<circle cx="2976.0" cy="718.6" r="6.2" fill="#e7ba52" stroke="#fff" stroke-width="1.2" />
<circle cx="2950.3" cy="732.7" r="6.2" fill="#ad494a" stroke="#fff" stroke-width="1.2" />
<circle cx="2983.1" cy="740.9" r="6.2" fill="#5254a3" stroke="#fff" stroke-width="1.2" />
<circle cx="2960.6" cy="765.0" r="6.2" fill="#637939" stroke="#fff" stroke-width="1.2" />
<circle cx="3010.5" cy="462.9" r="6.2" fill="#e7969c" stroke="#fff" stroke-width="1.2" />
<circle cx="3015.8" cy="466.9" r="6.2" fill="#ce6dbd" stroke="#fff" stroke-width="1.2" />
<circle cx="3032.2" cy="463.9" r="6.2" fill="#e7969c" stroke="#fff" stroke-width="1.2" />
<circle cx="3046.3" cy="470.0" r="6.2" fill="#ce6dbd" stroke="#fff" stroke-width="1.2" />
<circle cx="3018.7" cy="479.3" r="6.2" fill="#cedb9c" stroke="#fff" stroke-width="1.2" />
<circle cx="3008.1" cy="489.6" r="6.2" fill="#cedb9c" stroke="#fff" stroke-width="1.2" />
<circle cx="3006.9" cy="495.7" r="6.2" fill="#6b6ecf" stroke="#fff" stroke-width="1.2" />
<circle cx="3018.2" cy="495.7" r="6.2" fill="#393b79" stroke="#fff" stroke-width="1.2" />
<circle cx="3021.0" cy="490.3" r="6.2" fill="#5254a3" stroke="#fff" stroke-width="1.2" />
<circle cx="3045.6" cy="489.2" r="6.2" fill="#5254a3" stroke="#fff" stroke-width="1.2" />
<circle cx="3045.6" cy="495.7" r="6.2" fill="#6b6ecf" stroke="#fff" stroke-width="1.2" />
<circle cx="3047.2" cy="501.3" r="6.2" fill="#8ca252" stroke="#fff" stroke-width="1.2" />
<circle cx="3019.8" cy="507.9" r="6.2" fill="#d6616b" stroke="#fff" stroke-width="1.2" />
<circle cx="3033.9" cy="508.4" r="6.2" fill="#7b4173" stroke="#fff" stroke-width="1.2" />
<circle cx="3016.3" cy="520.8" r="6.2" fill="#7b4173" stroke="#fff" stroke-width="1.2" />
<circle cx="3046.3" cy="531.3" r="6.2" fill="#8ca252" stroke="#fff" stroke-width="1.2" />
<circle cx="3046.3" cy="524.3" r="6.2" fill="#843c39" stroke="#fff" stroke-width="1.2" />
<circle cx="3027.6" cy="540.7" r="6.2" fill="#bd9e39" stroke="#fff" stroke-width="1.2" />
<circle cx="3019.8" cy="546.5" r="6.2" fill="#e7cb94" stroke="#fff" stroke-width="1.2" />
<circle cx="3023.3" cy="550.0" r="6.2" fill="#e7ba52" stroke="#fff" stroke-width="1.2" />
<circle cx="3035.0" cy="547.2" r="6.2" fill="#e7cb94" stroke="#fff" stroke-width="1.2" />
<circle cx="3031.5" cy="554.7" r="6.2" fill="#5254a3" stroke="#fff" stroke-width="1.2" />
<circle cx="3045.6" cy="551.2" r="6.2" fill="#a55194" stroke="#fff" stroke-width="1.2" />
<circle cx="3030.4" cy="562.2" r="6.2" fill="#843c39" stroke="#fff" stroke-width="1.2" />
<circle cx="3047.5" cy="562.2" r="6.2" fill="#637939" stroke="#fff" stroke-width="1.2" />
<circle cx="3007.4" cy="580.5" r="6.2" fill="#ad494a" stroke="#fff" stroke-width="1.2" />
<circle cx="3008.1" cy="585.2" r="6.2" fill="#a55194" stroke="#fff" stroke-width="1.2" />
<circle cx="3016.3" cy="588.0" r="6.2" fill="#9c9ede" stroke="#fff" stroke-width="1.2" />
<circle cx="3026.1" cy="589.4" r="6.2" fill="#637939" stroke="#fff" stroke-width="1.2" />
<circle cx="3038.6" cy="585.2" r="6.2" fill="#8c6d31" stroke="#fff" stroke-width="1.2" />
<circle cx="3046.8" cy="584.0" r="6.2" fill="#ad494a" stroke="#fff" stroke-width="1.2" />
<circle cx="3019.1" cy="616.1" r="6.2" fill="#bd9e39" stroke="#fff" stroke-width="1.2" />
<circle cx="3038.6" cy="616.8" r="6.2" fill="#b5cf6b" stroke="#fff" stroke-width="1.2" />
<circle cx="3038.6" cy="649.6" r="6.2" fill="#8c6d31" stroke="#fff" stroke-width="1.2" />
<circle cx="3046.3" cy="646.5" r="6.2" fill="#e7ba52" stroke="#fff" stroke-width="1.2" />
<circle cx="3046.3" cy="675.3" r="6.2" fill="#9c9ede" stroke="#fff" stroke-width="1.2" />
<circle cx="3012.3" cy="749.5" r="6.2" fill="#b5cf6b" stroke="#fff" stroke-width="1.2" />
<line x1="2662.4" y1="552.7" x2="2718.3" y2="552.7" stroke="#000" stroke-width="2.6" />
<line x1="2690.4" y1="468.7" x2="2690.4" y2="521.7" stroke="#000" stroke-width="2.6" />
<line x1="2690.4" y1="600.5" x2="2690.4" y2="703.8" stroke="#000" stroke-width="2.6" />
<line x1="2676.4" y1="468.7" x2="2704.4" y2="468.7" stroke="#000" stroke-width="2.6" />
<line x1="2676.4" y1="703.8" x2="2704.4" y2="703.8" stroke="#000" stroke-width="2.6" />
<line x1="2718.3" y1="517.9" x2="2774.6" y2="517.9" stroke="#000" stroke-width="2.6" />
<line x1="2746.4" y1="461.7" x2="2746.4" y2="488.8" stroke="#000" stroke-width="2.6" />
<line x1="2746.4" y1="557.3" x2="2746.4" y2="640.4" stroke="#000" stroke-width="2.6" />
<line x1="2732.4" y1="461.7" x2="2760.4" y2="461.7" stroke="#000" stroke-width="2.6" />
<line x1="2732.4" y1="640.4" x2="2760.4" y2="640.4" stroke="#000" stroke-width="2.6" />
<line x1="2802.5" y1="581.4" x2="2858.8" y2="581.4" stroke="#000" stroke-width="2.6" />
<line x1="2830.7" y1="475.0" x2="2830.7" y2="536.4" stroke="#000" stroke-width="2.6" />
<line x1="2830.7" y1="644.8" x2="2830.7" y2="794.5" stroke="#000" stroke-width="2.6" />
<line x1="2816.7" y1="475.0" x2="2844.7" y2="475.0" stroke="#000" stroke-width="2.6" />
<line x1="2816.7" y1="794.5" x2="2844.7" y2="794.5" stroke="#000" stroke-width="2.6" />
<line x1="2858.8" y1="533.1" x2="2915.1" y2="533.1" stroke="#000" stroke-width="2.6" />
<line x1="2886.9" y1="461.7" x2="2886.9" y2="506.0" stroke="#000" stroke-width="2.6" />
<line x1="2886.9" y1="570.4" x2="2886.9" y2="657.2" stroke="#000" stroke-width="2.6" />
<line x1="2872.9" y1="461.7" x2="2900.9" y2="461.7" stroke="#000" stroke-width="2.6" />
<line x1="2872.9" y1="657.2" x2="2900.9" y2="657.2" stroke="#000" stroke-width="2.6" />
<line x1="2943.0" y1="605.6" x2="2999.4" y2="605.6" stroke="#000" stroke-width="2.6" />
<line x1="2971.2" y1="491.8" x2="2971.2" y2="535.4" stroke="#000" stroke-width="2.6" />
<line x1="2971.2" y1="698.0" x2="2971.2" y2="809.6" stroke="#000" stroke-width="2.6" />
<line x1="2957.2" y1="491.8" x2="2985.2" y2="491.8" stroke="#000" stroke-width="2.6" />
<line x1="2999.4" y1="543.8" x2="3055.2" y2="543.8" stroke="#000" stroke-width="2.6" />
<line x1="3027.3" y1="463.1" x2="3027.3" y2="494.8" stroke="#000" stroke-width="2.6" />
<line x1="3027.3" y1="584.9" x2="3027.3" y2="675.8" stroke="#000" stroke-width="2.6" />
<line x1="3013.3" y1="463.1" x2="3041.3" y2="463.1" stroke="#000" stroke-width="2.6" />
<line x1="3013.3" y1="675.8" x2="3041.3" y2="675.8" stroke="#000" stroke-width="2.6" />
<text x="2718.3" y="837.6" font-size="21" fill="#262626" text-anchor="middle" textLength="43.0" lengthAdjust="spacingAndGlyphs">MLP</text>
<text x="2858.8" y="837.6" font-size="21" fill="#262626" text-anchor="middle" textLength="62.0" lengthAdjust="spacingAndGlyphs">SAINT</text>
<text x="2999.4" y="837.6" font-size="21" fill="#262626" text-anchor="middle" textLength="85.0" lengthAdjust="spacingAndGlyphs">XGBoost</text>
<text transform="translate(2541,626) rotate(-90)" text-anchor="middle" font-size="22" fill="#262626" textLength="221" lengthAdjust="spacingAndGlyphs">Correlation between</text>
<text transform="translate(2575,626) rotate(-90)" text-anchor="middle" font-size="22" fill="#262626" textLength="353" lengthAdjust="spacingAndGlyphs">prediction <tspan font-style="italic">R</tspan><tspan font-size="15" dy="-9">2</tspan><tspan dy="9"> and imputation </tspan><tspan font-style="italic">R</tspan><tspan font-size="15" dy="-9">2</tspan></text>
<text x="3104.0" y="478.5" font-size="18.5" fill="#262626" textLength="80.0" lengthAdjust="spacingAndGlyphs">Outcome</text>
<rect x="3087.0" y="491.8" width="40.0" height="14.6" fill="#bfbfbf" stroke="#cfcfcf" stroke-width="2"/>
<text x="3143.5" y="506.4" font-size="18.5" fill="#262626" textLength="32.0" lengthAdjust="spacingAndGlyphs">real</text>
<rect x="3087.0" y="519.5" width="40.0" height="14.6" fill="#f2f2f2" stroke="#d9d9d9" stroke-width="2"/>
<text x="3143.5" y="534.0" font-size="18.5" fill="#262626" textLength="47.0" lengthAdjust="spacingAndGlyphs">linear</text>
<line x1="3030.0" y1="1303.9" x2="3346.0" y2="1303.9" stroke="#d0d0d0" stroke-width="1.3" />
<line x1="3030.0" y1="1343.3" x2="3346.0" y2="1343.3" stroke="#d0d0d0" stroke-width="1.3" />
<line x1="3030.0" y1="1382.8" x2="3346.0" y2="1382.8" stroke="#d0d0d0" stroke-width="1.3" />
<line x1="3030.0" y1="1422.2" x2="3346.0" y2="1422.2" stroke="#d0d0d0" stroke-width="1.3" />
<line x1="3030.0" y1="1461.7" x2="3346.0" y2="1461.7" stroke="#d0d0d0" stroke-width="1.3" />
<line x1="3030.0" y1="1540.6" x2="3346.0" y2="1540.6" stroke="#d0d0d0" stroke-width="1.3" />
<line x1="3030.0" y1="1580.0" x2="3346.0" y2="1580.0" stroke="#d0d0d0" stroke-width="1.3" />
<rect x="3030.0" y="1498.6" width="316.0" height="5.0" fill="#c8c8c8"/>
<line x1="3030.0" y1="1303.9" x2="3030.0" y2="1580.0" stroke="#cccccc" stroke-width="1.6" />
<line x1="3030.0" y1="1580.0" x2="3346.0" y2="1580.0" stroke="#cccccc" stroke-width="1.6" />
<text x="3019.8" y="1309.9" font-size="16.5" fill="#262626" text-anchor="end">0.25</text>
<text x="3019.8" y="1349.3" font-size="16.5" fill="#262626" text-anchor="end">0.20</text>
<text x="3019.8" y="1388.8" font-size="16.5" fill="#262626" text-anchor="end">0.15</text>
<text x="3019.8" y="1428.2" font-size="16.5" fill="#262626" text-anchor="end">0.10</text>
<text x="3019.8" y="1467.7" font-size="16.5" fill="#262626" text-anchor="end">0.05</text>
<text x="3019.8" y="1507.1" font-size="16.5" fill="#262626" text-anchor="end">0.00</text>
<text x="3019.8" y="1546.6" font-size="16.5" fill="#262626" text-anchor="end">−0.05</text>
<text x="3019.8" y="1586.0" font-size="16.5" fill="#262626" text-anchor="end">−0.10</text>
<rect x="3044.2" y="1379.6" width="41.4" height="94.7" fill="#bfbfbf" stroke="#cfcfcf" stroke-width="2"/>
<rect x="3085.6" y="1392.3" width="41.4" height="81.3" fill="#f2f2f2" stroke="#d9d9d9" stroke-width="2"/>
<rect x="3147.4" y="1438.8" width="41.4" height="58.4" fill="#bfbfbf" stroke="#cfcfcf" stroke-width="2"/>
<rect x="3188.8" y="1433.3" width="41.4" height="57.6" fill="#f2f2f2" stroke="#d9d9d9" stroke-width="2"/>
<rect x="3249.8" y="1466.4" width="41.4" height="48.1" fill="#bfbfbf" stroke="#cfcfcf" stroke-width="2"/>
<rect x="3291.2" y="1464.8" width="41.3" height="46.5" fill="#f2f2f2" stroke="#d9d9d9" stroke-width="2"/>
<clipPath id="clip6"><rect x="3030" y="1296" width="320" height="300"/></clipPath>
<g clip-path="url(#clip6)">
<circle cx="3076.6" cy="1303.3" r="4.7" fill="#843c39" stroke="#fff" stroke-width="1.2" />
<circle cx="3079.5" cy="1333.2" r="4.7" fill="#8c6d31" stroke="#fff" stroke-width="1.2" />
<circle cx="3053.1" cy="1345.3" r="4.7" fill="#8ca252" stroke="#fff" stroke-width="1.2" />
<path d="M3076.6,1360.6 L3081.7,1369.5 L3071.4,1369.5 Z" fill="#5254a3" stroke="#fff" stroke-width="1.2" />
<circle cx="3062.9" cy="1392.9" r="4.7" fill="#e7cb94" stroke="#fff" stroke-width="1.2" />
<circle cx="3067.9" cy="1399.9" r="4.7" fill="#e7969c" stroke="#fff" stroke-width="1.2" />
<circle cx="3077.7" cy="1405.3" r="4.7" fill="#393b79" stroke="#fff" stroke-width="1.2" />
<circle cx="3051.8" cy="1422.1" r="4.7" fill="#9c9ede" stroke="#fff" stroke-width="1.2" />
<circle cx="3059.2" cy="1430.2" r="4.7" fill="#e7ba52" stroke="#fff" stroke-width="1.2" />
<circle cx="3070.3" cy="1441.0" r="4.7" fill="#cedb9c" stroke="#fff" stroke-width="1.2" />
<circle cx="3063.3" cy="1447.4" r="4.7" fill="#7b4173" stroke="#fff" stroke-width="1.2" />
<circle cx="3076.6" cy="1450.2" r="4.7" fill="#ad494a" stroke="#fff" stroke-width="1.2" />
<path d="M3074.3,1467.8 L3079.5,1476.7 L3069.2,1476.7 Z" fill="#ce6dbd" stroke="#fff" stroke-width="1.2" />
<path d="M3053.1,1471.4 L3058.3,1480.4 L3047.9,1480.4 Z" fill="#b5cf6b" stroke="#fff" stroke-width="1.2" />
<circle cx="3056.4" cy="1494.5" r="4.7" fill="#a55194" stroke="#fff" stroke-width="1.2" />
<path d="M3062.3,1494.5 L3067.5,1503.5 L3057.2,1503.5 Z" fill="#bd9e39" stroke="#fff" stroke-width="1.2" />
<path d="M3052.2,1492.7 L3057.4,1501.6 L3047.0,1501.6 Z" fill="#637939" stroke="#fff" stroke-width="1.2" />
<path d="M3115.0,1327.3 L3120.2,1336.3 L3109.8,1336.3 Z" fill="#5254a3" stroke="#fff" stroke-width="1.2" />
<circle cx="3116.3" cy="1343.4" r="4.7" fill="#8ca252" stroke="#fff" stroke-width="1.2" />
<circle cx="3113.5" cy="1338.8" r="4.7" fill="#8c6d31" stroke="#fff" stroke-width="1.2" />
<circle cx="3099.3" cy="1376.8" r="4.7" fill="#6b6ecf" stroke="#fff" stroke-width="1.2" />
<circle cx="3104.5" cy="1405.5" r="4.7" fill="#393b79" stroke="#fff" stroke-width="1.2" />
<circle cx="3112.6" cy="1413.2" r="4.7" fill="#9c9ede" stroke="#fff" stroke-width="1.2" />
<circle cx="3107.6" cy="1426.2" r="4.7" fill="#e7969c" stroke="#fff" stroke-width="1.2" />
<circle cx="3111.3" cy="1433.9" r="4.7" fill="#e7cb94" stroke="#fff" stroke-width="1.2" />
<circle cx="3091.9" cy="1437.6" r="4.7" fill="#e7ba52" stroke="#fff" stroke-width="1.2" />
<circle cx="3100.8" cy="1438.7" r="4.7" fill="#cedb9c" stroke="#fff" stroke-width="1.2" />
<circle cx="3092.8" cy="1447.4" r="4.7" fill="#7b4173" stroke="#fff" stroke-width="1.2" />
<circle cx="3113.1" cy="1445.9" r="4.7" fill="#ad494a" stroke="#fff" stroke-width="1.2" />
<path d="M3100.2,1459.4 L3105.4,1468.4 L3095.0,1468.4 Z" fill="#b5cf6b" stroke="#fff" stroke-width="1.2" />
<path d="M3096.9,1477.9 L3102.1,1486.8 L3091.7,1486.8 Z" fill="#637939" stroke="#fff" stroke-width="1.2" />
<path d="M3099.3,1481.6 L3104.5,1490.5 L3094.1,1490.5 Z" fill="#ce6dbd" stroke="#fff" stroke-width="1.2" />
<circle cx="3121.5" cy="1495.5" r="4.7" fill="#a55194" stroke="#fff" stroke-width="1.2" />
<path d="M3115.9,1495.5 L3121.1,1504.4 L3110.7,1504.4 Z" fill="#bd9e39" stroke="#fff" stroke-width="1.2" />
<circle cx="3170.0" cy="1332.0" r="4.7" fill="#8c6d31" stroke="#fff" stroke-width="1.2" />
<circle cx="3170.0" cy="1416.9" r="4.7" fill="#6b6ecf" stroke="#fff" stroke-width="1.2" />
<path d="M3171.9,1416.0 L3177.1,1425.0 L3166.7,1425.0 Z" fill="#843c39" stroke="#fff" stroke-width="1.2" />
<circle cx="3163.4" cy="1432.6" r="4.7" fill="#e7cb94" stroke="#fff" stroke-width="1.2" />
<circle cx="3162.1" cy="1436.9" r="4.7" fill="#e7969c" stroke="#fff" stroke-width="1.2" />
<circle cx="3173.2" cy="1441.0" r="4.7" fill="#9c9ede" stroke="#fff" stroke-width="1.2" />
<path d="M3155.6,1438.7 L3160.8,1447.7 L3150.5,1447.7 Z" fill="#8ca252" stroke="#fff" stroke-width="1.2" />
<circle cx="3174.1" cy="1447.4" r="4.7" fill="#7b4173" stroke="#fff" stroke-width="1.2" />
<circle cx="3175.0" cy="1464.1" r="4.7" fill="#cedb9c" stroke="#fff" stroke-width="1.2" />
<path d="M3164.5,1463.1 L3169.7,1472.1 L3159.3,1472.1 Z" fill="#5254a3" stroke="#fff" stroke-width="1.2" />
<path d="M3165.8,1465.9 L3171.0,1474.8 L3160.6,1474.8 Z" fill="#b5cf6b" stroke="#fff" stroke-width="1.2" />
<path d="M3179.3,1465.0 L3184.5,1473.9 L3174.1,1473.9 Z" fill="#ad494a" stroke="#fff" stroke-width="1.2" />
<path d="M3181.9,1478.8 L3187.1,1487.8 L3176.7,1487.8 Z" fill="#ce6dbd" stroke="#fff" stroke-width="1.2" />
<circle cx="3160.8" cy="1497.9" r="4.7" fill="#a55194" stroke="#fff" stroke-width="1.2" />
<path d="M3170.8,1495.5 L3176.0,1504.4 L3165.6,1504.4 Z" fill="#bd9e39" stroke="#fff" stroke-width="1.2" />
<path d="M3160.3,1508.4 L3165.4,1517.3 L3155.1,1517.3 Z" fill="#637939" stroke="#fff" stroke-width="1.2" />
<path d="M3177.3,1519.5 L3182.4,1528.4 L3172.1,1528.4 Z" fill="#5254a3" stroke="#fff" stroke-width="1.2" />
<circle cx="3201.3" cy="1347.3" r="4.7" fill="#8c6d31" stroke="#fff" stroke-width="1.2" />
<circle cx="3198.9" cy="1348.6" r="4.7" fill="#843c39" stroke="#fff" stroke-width="1.2" />
<circle cx="3207.6" cy="1389.6" r="4.7" fill="#6b6ecf" stroke="#fff" stroke-width="1.2" />
<circle cx="3219.8" cy="1392.3" r="4.7" fill="#8ca252" stroke="#fff" stroke-width="1.2" />
<circle cx="3223.5" cy="1432.0" r="4.7" fill="#393b79" stroke="#fff" stroke-width="1.2" />
<circle cx="3214.3" cy="1433.0" r="4.7" fill="#9c9ede" stroke="#fff" stroke-width="1.2" />
<circle cx="3203.6" cy="1436.8" r="4.7" fill="#7b4173" stroke="#fff" stroke-width="1.2" />
<circle cx="3221.7" cy="1436.8" r="4.7" fill="#e7cb94" stroke="#fff" stroke-width="1.2" />
<circle cx="3216.5" cy="1452.0" r="4.7" fill="#e7969c" stroke="#fff" stroke-width="1.2" />
<circle cx="3197.6" cy="1467.1" r="4.7" fill="#cedb9c" stroke="#fff" stroke-width="1.2" />
<circle cx="3199.5" cy="1474.1" r="4.7" fill="#ce6dbd" stroke="#fff" stroke-width="1.2" />
<path d="M3214.3,1467.1 L3219.4,1476.0 L3209.1,1476.0 Z" fill="#e7ba52" stroke="#fff" stroke-width="1.2" />
<path d="M3223.9,1471.9 L3229.0,1480.8 L3218.7,1480.8 Z" fill="#ad494a" stroke="#fff" stroke-width="1.2" />
<path d="M3214.3,1482.4 L3219.4,1491.4 L3209.1,1491.4 Z" fill="#637939" stroke="#fff" stroke-width="1.2" />
<path d="M3203.6,1488.0 L3208.7,1496.9 L3198.4,1496.9 Z" fill="#b5cf6b" stroke="#fff" stroke-width="1.2" />
<path d="M3214.6,1493.5 L3219.8,1502.5 L3209.5,1502.5 Z" fill="#ce6dbd" stroke="#fff" stroke-width="1.2" />
<path d="M3221.7,1494.8 L3226.8,1503.7 L3216.5,1503.7 Z" fill="#bd9e39" stroke="#fff" stroke-width="1.2" />
<path d="M3223.9,1514.8 L3229.0,1523.7 L3218.7,1523.7 Z" fill="#5254a3" stroke="#fff" stroke-width="1.2" />
<path d="M3273.4,1435.4 L3278.5,1444.3 L3268.2,1444.3 Z" fill="#bd9e39" stroke="#fff" stroke-width="1.2" />
<circle cx="3275.2" cy="1442.7" r="4.7" fill="#6b6ecf" stroke="#fff" stroke-width="1.2" />
<path d="M3281.5,1449.8 L3286.7,1458.7 L3276.3,1458.7 Z" fill="#843c39" stroke="#fff" stroke-width="1.2" />
<circle cx="3261.7" cy="1463.1" r="4.7" fill="#e7969c" stroke="#fff" stroke-width="1.2" />
<circle cx="3282.6" cy="1464.3" r="4.7" fill="#e7cb94" stroke="#fff" stroke-width="1.2" />
<circle cx="3260.8" cy="1469.0" r="4.7" fill="#7b4173" stroke="#fff" stroke-width="1.2" />
<path d="M3266.7,1470.4 L3271.9,1479.4 L3261.5,1479.4 Z" fill="#ad494a" stroke="#fff" stroke-width="1.2" />
<path d="M3259.3,1473.2 L3264.5,1482.1 L3254.1,1482.1 Z" fill="#9c9ede" stroke="#fff" stroke-width="1.2" />
<path d="M3261.7,1480.0 L3266.9,1489.0 L3256.5,1489.0 Z" fill="#ce6dbd" stroke="#fff" stroke-width="1.2" />
<path d="M3271.5,1485.6 L3276.7,1494.5 L3266.3,1494.5 Z" fill="#5254a3" stroke="#fff" stroke-width="1.2" />
<circle cx="3278.9" cy="1497.8" r="4.7" fill="#a55194" stroke="#fff" stroke-width="1.2" />
<path d="M3275.9,1496.3 L3281.1,1505.2 L3270.8,1505.2 Z" fill="#e7ba52" stroke="#fff" stroke-width="1.2" />
<path d="M3277.1,1504.6 L3282.2,1513.5 L3271.9,1513.5 Z" fill="#b5cf6b" stroke="#fff" stroke-width="1.2" />
<path d="M3263.0,1513.8 L3268.2,1522.8 L3257.8,1522.8 Z" fill="#637939" stroke="#fff" stroke-width="1.2" />
<path d="M3279.3,1513.3 L3284.4,1522.2 L3274.1,1522.2 Z" fill="#5254a3" stroke="#fff" stroke-width="1.2" />
<path d="M3270.0,1521.8 L3275.2,1530.7 L3264.9,1530.7 Z" fill="#637939" stroke="#fff" stroke-width="1.2" />
<path d="M3268.2,1572.0 L3273.4,1580.9 L3263.0,1580.9 Z" fill="#e7ba52" stroke="#fff" stroke-width="1.2" />
<circle cx="3314.7" cy="1440.0" r="4.7" fill="#8c6d31" stroke="#fff" stroke-width="1.2" />
<circle cx="3296.8" cy="1452.0" r="4.7" fill="#6b6ecf" stroke="#fff" stroke-width="1.2" />
<path d="M3300.5,1448.3 L3305.7,1457.2 L3295.3,1457.2 Z" fill="#843c39" stroke="#fff" stroke-width="1.2" />
<circle cx="3309.7" cy="1455.7" r="4.7" fill="#e7cb94" stroke="#fff" stroke-width="1.2" />
<circle cx="3308.4" cy="1462.7" r="4.7" fill="#e7969c" stroke="#fff" stroke-width="1.2" />
<path d="M3302.4,1461.2 L3307.5,1470.1 L3297.2,1470.1 Z" fill="#9c9ede" stroke="#fff" stroke-width="1.2" />
<circle cx="3307.9" cy="1471.9" r="4.7" fill="#7b4173" stroke="#fff" stroke-width="1.2" />
<path d="M3317.7,1468.2 L3322.9,1477.2 L3312.5,1477.2 Z" fill="#ce6dbd" stroke="#fff" stroke-width="1.2" />
<path d="M3296.8,1472.3 L3302.0,1481.2 L3291.6,1481.2 Z" fill="#ad494a" stroke="#fff" stroke-width="1.2" />
<path d="M3306.0,1476.0 L3311.2,1484.9 L3300.9,1484.9 Z" fill="#b5cf6b" stroke="#fff" stroke-width="1.2" />
<path d="M3321.4,1476.0 L3326.6,1484.9 L3316.2,1484.9 Z" fill="#393b79" stroke="#fff" stroke-width="1.2" />
<circle cx="3297.4" cy="1497.8" r="4.7" fill="#a55194" stroke="#fff" stroke-width="1.2" />
<path d="M3323.6,1494.1 L3328.8,1503.0 L3318.4,1503.0 Z" fill="#bd9e39" stroke="#fff" stroke-width="1.2" />
<path d="M3326.9,1502.8 L3332.1,1511.7 L3321.7,1511.7 Z" fill="#8ca252" stroke="#fff" stroke-width="1.2" />
<path d="M3311.0,1511.1 L3316.2,1520.0 L3305.9,1520.0 Z" fill="#637939" stroke="#fff" stroke-width="1.2" />
<path d="M3311.0,1524.0 L3316.2,1532.9 L3305.9,1532.9 Z" fill="#5254a3" stroke="#fff" stroke-width="1.2" />
<path d="M3298.7,1537.8 L3303.8,1546.8 L3293.5,1546.8 Z" fill="#b5cf6b" stroke="#fff" stroke-width="1.2" />
<path d="M3315.8,1563.7 L3321.0,1572.6 L3310.7,1572.6 Z" fill="#e7ba52" stroke="#fff" stroke-width="1.2" />
</g>
<line x1="3044.2" y1="1430.1" x2="3085.6" y2="1430.1" stroke="#000" stroke-width="2" />
<line x1="3064.9" y1="1303.9" x2="3064.9" y2="1379.6" stroke="#000" stroke-width="2" />
<line x1="3064.9" y1="1474.3" x2="3064.9" y2="1499.5" stroke="#000" stroke-width="2" />
<line x1="3054.9" y1="1499.5" x2="3074.9" y2="1499.5" stroke="#000" stroke-width="2" />
<line x1="3085.6" y1="1438.0" x2="3127.0" y2="1438.0" stroke="#000" stroke-width="2" />
<line x1="3106.3" y1="1333.9" x2="3106.3" y2="1392.3" stroke="#000" stroke-width="2" />
<line x1="3106.3" y1="1473.5" x2="3106.3" y2="1499.5" stroke="#000" stroke-width="2" />
<line x1="3096.3" y1="1333.9" x2="3116.3" y2="1333.9" stroke="#000" stroke-width="2" />
<line x1="3096.3" y1="1499.5" x2="3116.3" y2="1499.5" stroke="#000" stroke-width="2" />
<line x1="3147.4" y1="1467.2" x2="3188.8" y2="1467.2" stroke="#000" stroke-width="2" />
<line x1="3168.1" y1="1418.3" x2="3168.1" y2="1438.8" stroke="#000" stroke-width="2" />
<line x1="3168.1" y1="1497.2" x2="3168.1" y2="1524.8" stroke="#000" stroke-width="2" />
<line x1="3158.1" y1="1418.3" x2="3178.1" y2="1418.3" stroke="#000" stroke-width="2" />
<line x1="3158.1" y1="1524.8" x2="3178.1" y2="1524.8" stroke="#000" stroke-width="2" />
<line x1="3188.8" y1="1467.2" x2="3230.2" y2="1467.2" stroke="#000" stroke-width="2" />
<line x1="3209.5" y1="1347.3" x2="3209.5" y2="1433.3" stroke="#000" stroke-width="2" />
<line x1="3209.5" y1="1490.9" x2="3209.5" y2="1520.1" stroke="#000" stroke-width="2" />
<line x1="3199.5" y1="1347.3" x2="3219.5" y2="1347.3" stroke="#000" stroke-width="2" />
<line x1="3199.5" y1="1520.1" x2="3219.5" y2="1520.1" stroke="#000" stroke-width="2" />
<line x1="3249.8" y1="1484.6" x2="3291.2" y2="1484.6" stroke="#000" stroke-width="2" />
<line x1="3270.5" y1="1438.8" x2="3270.5" y2="1466.4" stroke="#000" stroke-width="2" />
<line x1="3270.5" y1="1514.5" x2="3270.5" y2="1577.6" stroke="#000" stroke-width="2" />
<line x1="3260.5" y1="1438.8" x2="3280.5" y2="1438.8" stroke="#000" stroke-width="2" />
<line x1="3260.5" y1="1577.6" x2="3280.5" y2="1577.6" stroke="#000" stroke-width="2" />
<line x1="3291.2" y1="1479.8" x2="3332.5" y2="1479.8" stroke="#000" stroke-width="2" />
<line x1="3311.8" y1="1440.4" x2="3311.8" y2="1464.8" stroke="#000" stroke-width="2" />
<line x1="3311.8" y1="1511.4" x2="3311.8" y2="1567.4" stroke="#000" stroke-width="2" />
<line x1="3301.8" y1="1440.4" x2="3321.8" y2="1440.4" stroke="#000" stroke-width="2" />
<line x1="3301.8" y1="1567.4" x2="3321.8" y2="1567.4" stroke="#000" stroke-width="2" />
<text x="3085.6" y="1601.0" font-size="16.5" fill="#262626" text-anchor="middle" textLength="37.0" lengthAdjust="spacingAndGlyphs">MLP</text>
<text x="3188.8" y="1601.0" font-size="16.5" fill="#262626" text-anchor="middle" textLength="48.0" lengthAdjust="spacingAndGlyphs">SAINT</text>
<text x="3291.2" y="1601.0" font-size="16.5" fill="#262626" text-anchor="middle" textLength="67.0" lengthAdjust="spacingAndGlyphs">XGBoost</text>
<text transform="translate(2947,1442) rotate(-90)" text-anchor="middle" font-size="17" fill="#262626" textLength="244" lengthAdjust="spacingAndGlyphs">Regression coefficient linking</text>
<text transform="translate(2971,1442) rotate(-90)" text-anchor="middle" font-size="17" fill="#262626" textLength="250" lengthAdjust="spacingAndGlyphs">prediction <tspan font-style="italic">R</tspan><tspan font-size="12" dy="-7">2</tspan><tspan dy="7"> to imputation </tspan><tspan font-style="italic">R</tspan><tspan font-size="12" dy="-7">2</tspan></text>
<text x="3106.0" y="1295.2" font-size="17" fill="#262626" textLength="163.4" lengthAdjust="spacingAndGlyphs">missing_rate = 50%</text>
<text x="3298.6" y="1295.2" font-size="17" textLength="42.4" lengthAdjust="spacingAndGlyphs">Mask</text>
</svg>
</body></html>
